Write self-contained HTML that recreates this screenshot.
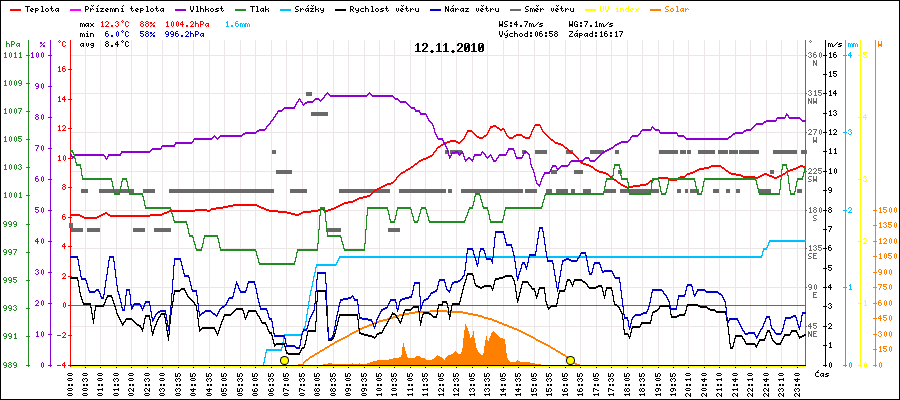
<!DOCTYPE html>
<html><head><meta charset="utf-8"><title>Meteo 12.11.2010</title>
<style>html,body{margin:0;padding:0;background:#fff;overflow:hidden}</style></head>
<body>
<svg width="900" height="400" viewBox="0 0 900 400" style="display:block">
<defs><path id="g25" d="M0 2h2v1h-2zM4 2h1v1h-1zM0 3h2v1h-2zM3 3h1v1h-1zM2 4h1v1h-1zM1 5h1v1h-1zM3 5h2v1h-2zM0 6h1v1h-1zM3 6h2v1h-2z"/><path id="g2d" d="M0 4h4v1h-4z"/><path id="g2e" d="M1 5h2v1h-2zM1 6h2v1h-2z"/><path id="g2f" d="M4 2h1v1h-1zM3 3h1v1h-1zM2 4h1v1h-1zM1 5h1v1h-1zM0 6h1v1h-1z"/><path id="g30" d="M2 1h1v1h-1zM1 2h1v1h-1zM3 2h1v1h-1zM1 3h1v1h-1zM3 3h1v1h-1zM1 4h1v1h-1zM3 4h1v1h-1zM1 5h1v1h-1zM3 5h1v1h-1zM2 6h1v1h-1z"/><path id="g31" d="M2 1h1v1h-1zM1 2h2v1h-2zM2 3h1v1h-1zM2 4h1v1h-1zM2 5h1v1h-1zM1 6h3v1h-3z"/><path id="g32" d="M1 1h2v1h-2zM0 2h1v1h-1zM3 2h1v1h-1zM3 3h1v1h-1zM2 4h1v1h-1zM1 5h1v1h-1zM0 6h4v1h-4z"/><path id="g33" d="M1 1h2v1h-2zM0 2h1v1h-1zM3 2h1v1h-1zM2 3h1v1h-1zM3 4h1v1h-1zM0 5h1v1h-1zM3 5h1v1h-1zM1 6h2v1h-2z"/><path id="g34" d="M2 1h1v1h-1zM1 2h2v1h-2zM0 3h1v1h-1zM2 3h1v1h-1zM0 4h4v1h-4zM2 5h1v1h-1zM2 6h1v1h-1z"/><path id="g35" d="M0 1h4v1h-4zM0 2h1v1h-1zM0 3h3v1h-3zM3 4h1v1h-1zM0 5h1v1h-1zM3 5h1v1h-1zM1 6h2v1h-2z"/><path id="g36" d="M1 1h2v1h-2zM0 2h1v1h-1zM0 3h3v1h-3zM0 4h1v1h-1zM3 4h1v1h-1zM0 5h1v1h-1zM3 5h1v1h-1zM1 6h2v1h-2z"/><path id="g37" d="M0 1h4v1h-4zM3 2h1v1h-1zM2 3h1v1h-1zM2 4h1v1h-1zM1 5h1v1h-1zM1 6h1v1h-1z"/><path id="g38" d="M1 1h2v1h-2zM0 2h1v1h-1zM3 2h1v1h-1zM1 3h2v1h-2zM0 4h1v1h-1zM3 4h1v1h-1zM0 5h1v1h-1zM3 5h1v1h-1zM1 6h2v1h-2z"/><path id="g39" d="M1 1h2v1h-2zM0 2h1v1h-1zM3 2h1v1h-1zM0 3h1v1h-1zM3 3h1v1h-1zM1 4h3v1h-3zM3 5h1v1h-1zM1 6h2v1h-2z"/><path id="g3a" d="M1 2h2v1h-2zM1 3h2v1h-2zM1 5h2v1h-2zM1 6h2v1h-2z"/><path id="g43" d="M1 1h2v1h-2zM0 2h1v1h-1zM3 2h1v1h-1zM0 3h1v1h-1zM0 4h1v1h-1zM0 5h1v1h-1zM3 5h1v1h-1zM1 6h2v1h-2z"/><path id="g45" d="M0 1h4v1h-4zM0 2h1v1h-1zM0 3h3v1h-3zM0 4h1v1h-1zM0 5h1v1h-1zM0 6h4v1h-4z"/><path id="g47" d="M1 1h2v1h-2zM0 2h1v1h-1zM3 2h1v1h-1zM0 3h1v1h-1zM0 4h1v1h-1zM2 4h2v1h-2zM0 5h1v1h-1zM3 5h1v1h-1zM1 6h3v1h-3z"/><path id="g4e" d="M0 1h1v1h-1zM3 1h1v1h-1zM0 2h2v1h-2zM3 2h1v1h-1zM0 3h2v1h-2zM3 3h1v1h-1zM0 4h1v1h-1zM2 4h2v1h-2zM0 5h1v1h-1zM2 5h2v1h-2zM0 6h1v1h-1zM3 6h1v1h-1z"/><path id="g50" d="M0 1h3v1h-3zM0 2h1v1h-1zM3 2h1v1h-1zM0 3h1v1h-1zM3 3h1v1h-1zM0 4h3v1h-3zM0 5h1v1h-1zM0 6h1v1h-1z"/><path id="g52" d="M0 1h3v1h-3zM0 2h1v1h-1zM3 2h1v1h-1zM0 3h1v1h-1zM3 3h1v1h-1zM0 4h3v1h-3zM0 5h1v1h-1zM2 5h1v1h-1zM0 6h1v1h-1zM3 6h1v1h-1z"/><path id="g53" d="M1 1h3v1h-3zM0 2h1v1h-1zM0 3h1v1h-1zM1 4h2v1h-2zM3 5h1v1h-1zM0 6h3v1h-3z"/><path id="g54" d="M0 1h5v1h-5zM2 2h1v1h-1zM2 3h1v1h-1zM2 4h1v1h-1zM2 5h1v1h-1zM2 6h1v1h-1z"/><path id="g55" d="M0 1h1v1h-1zM3 1h1v1h-1zM0 2h1v1h-1zM3 2h1v1h-1zM0 3h1v1h-1zM3 3h1v1h-1zM0 4h1v1h-1zM3 4h1v1h-1zM0 5h1v1h-1zM3 5h1v1h-1zM1 6h2v1h-2z"/><path id="g56" d="M0 1h1v1h-1zM3 1h1v1h-1zM0 2h1v1h-1zM3 2h1v1h-1zM0 3h1v1h-1zM3 3h1v1h-1zM0 4h1v1h-1zM3 4h1v1h-1zM1 5h2v1h-2zM1 6h2v1h-2z"/><path id="g57" d="M0 1h1v1h-1zM3 1h1v1h-1zM0 2h1v1h-1zM3 2h1v1h-1zM0 3h1v1h-1zM3 3h1v1h-1zM0 4h4v1h-4zM0 5h4v1h-4zM0 6h1v1h-1zM3 6h1v1h-1z"/><path id="g5a" d="M0 1h4v1h-4zM3 2h1v1h-1zM2 3h1v1h-1zM1 4h1v1h-1zM0 5h1v1h-1zM0 6h4v1h-4z"/><path id="g61" d="M1 3h3v1h-3zM0 4h1v1h-1zM3 4h1v1h-1zM0 5h1v1h-1zM2 5h2v1h-2zM1 6h1v1h-1zM3 6h1v1h-1z"/><path id="g63" d="M1 3h3v1h-3zM0 4h1v1h-1zM0 5h1v1h-1zM1 6h3v1h-3z"/><path id="g64" d="M3 1h1v1h-1zM3 2h1v1h-1zM1 3h3v1h-3zM0 4h1v1h-1zM3 4h1v1h-1zM0 5h1v1h-1zM3 5h1v1h-1zM1 6h3v1h-3z"/><path id="g65" d="M1 3h2v1h-2zM0 4h1v1h-1zM2 4h2v1h-2zM0 5h2v1h-2zM1 6h2v1h-2z"/><path id="g67" d="M1 3h3v1h-3zM0 4h1v1h-1zM3 4h1v1h-1zM1 5h3v1h-3zM3 6h1v1h-1zM1 7h2v1h-2z"/><path id="g68" d="M0 1h1v1h-1zM0 2h1v1h-1zM0 3h3v1h-3zM0 4h1v1h-1zM3 4h1v1h-1zM0 5h1v1h-1zM3 5h1v1h-1zM0 6h1v1h-1zM3 6h1v1h-1z"/><path id="g69" d="M2 1h1v1h-1zM1 3h2v1h-2zM2 4h1v1h-1zM2 5h1v1h-1zM1 6h3v1h-3z"/><path id="g6b" d="M0 1h1v1h-1zM0 2h1v1h-1zM0 3h1v1h-1zM3 3h1v1h-1zM0 4h3v1h-3zM0 5h1v1h-1zM3 5h1v1h-1zM0 6h1v1h-1zM3 6h1v1h-1z"/><path id="g6c" d="M1 1h2v1h-2zM2 2h1v1h-1zM2 3h1v1h-1zM2 4h1v1h-1zM2 5h1v1h-1zM1 6h3v1h-3z"/><path id="g6d" d="M0 3h2v1h-2zM3 3h1v1h-1zM0 4h1v1h-1zM2 4h1v1h-1zM4 4h1v1h-1zM0 5h1v1h-1zM2 5h1v1h-1zM4 5h1v1h-1zM0 6h1v1h-1zM2 6h1v1h-1zM4 6h1v1h-1z"/><path id="g6e" d="M0 3h3v1h-3zM0 4h1v1h-1zM3 4h1v1h-1zM0 5h1v1h-1zM3 5h1v1h-1zM0 6h1v1h-1zM3 6h1v1h-1z"/><path id="g6f" d="M1 3h2v1h-2zM0 4h1v1h-1zM3 4h1v1h-1zM0 5h1v1h-1zM3 5h1v1h-1zM1 6h2v1h-2z"/><path id="g70" d="M0 3h3v1h-3zM0 4h1v1h-1zM3 4h1v1h-1zM0 5h3v1h-3zM0 6h1v1h-1zM0 7h1v1h-1z"/><path id="g72" d="M0 3h1v1h-1zM2 3h1v1h-1zM0 4h2v1h-2zM3 4h1v1h-1zM0 5h1v1h-1zM0 6h1v1h-1z"/><path id="g73" d="M1 3h3v1h-3zM0 4h2v1h-2zM2 5h2v1h-2zM0 6h3v1h-3z"/><path id="g74" d="M1 1h1v1h-1zM1 2h1v1h-1zM0 3h3v1h-3zM1 4h1v1h-1zM1 5h1v1h-1zM3 5h1v1h-1zM2 6h1v1h-1z"/><path id="g75" d="M0 3h1v1h-1zM3 3h1v1h-1zM0 4h1v1h-1zM3 4h1v1h-1zM0 5h1v1h-1zM3 5h1v1h-1zM1 6h3v1h-3z"/><path id="g76" d="M1 3h1v1h-1zM3 3h1v1h-1zM1 4h1v1h-1zM3 4h1v1h-1zM1 5h1v1h-1zM3 5h1v1h-1zM2 6h1v1h-1z"/><path id="g78" d="M0 3h1v1h-1zM3 3h1v1h-1zM1 4h2v1h-2zM1 5h2v1h-2zM0 6h1v1h-1zM3 6h1v1h-1z"/><path id="g79" d="M0 3h1v1h-1zM3 3h1v1h-1zM0 4h1v1h-1zM3 4h1v1h-1zM1 5h3v1h-3zM3 6h1v1h-1zM1 7h2v1h-2z"/><path id="g7a" d="M0 3h4v1h-4zM2 4h1v1h-1zM1 5h1v1h-1zM0 6h4v1h-4z"/><path id="gb0" d="M2 0h1v1h-1zM1 1h1v1h-1zM3 1h1v1h-1zM2 2h1v1h-1z"/><path id="ge1" d="M3 0h1v1h-1zM2 1h1v1h-1zM1 3h3v1h-3zM0 4h1v1h-1zM3 4h1v1h-1zM0 5h1v1h-1zM2 5h2v1h-2zM1 6h1v1h-1zM3 6h1v1h-1z"/><path id="ged" d="M3 0h1v1h-1zM2 1h1v1h-1zM1 3h2v1h-2zM2 4h1v1h-1zM2 5h1v1h-1zM1 6h3v1h-3z"/><path id="gfd" d="M3 0h1v1h-1zM2 1h1v1h-1zM0 3h1v1h-1zM3 3h1v1h-1zM0 4h1v1h-1zM3 4h1v1h-1zM1 5h3v1h-3zM3 6h1v1h-1zM1 7h2v1h-2z"/><path id="g10c" d="M3 0h1v1h-1zM2 1h1v1h-1zM1 2h3v1h-3zM0 3h1v1h-1zM0 4h1v1h-1zM0 5h1v1h-1zM1 6h3v1h-3z"/><path id="g11b" d="M1 0h1v1h-1zM3 0h1v1h-1zM2 1h1v1h-1zM1 3h2v1h-2zM0 4h1v1h-1zM2 4h2v1h-2zM0 5h2v1h-2zM1 6h2v1h-2z"/><path id="g159" d="M1 0h1v1h-1zM3 0h1v1h-1zM2 1h1v1h-1zM0 3h1v1h-1zM2 3h1v1h-1zM0 4h2v1h-2zM3 4h1v1h-1zM0 5h1v1h-1zM0 6h1v1h-1z"/><path id="g17e" d="M1 0h1v1h-1zM3 0h1v1h-1zM2 1h1v1h-1zM0 3h4v1h-4zM2 4h1v1h-1zM1 5h1v1h-1zM0 6h4v1h-4z"/><path id="b2e" d="M3 9h2v1h-2zM2 10h4v1h-4zM3 11h2v1h-2z"/><path id="b30" d="M2 2h4v1h-4zM1 3h2v1h-2zM5 3h2v1h-2zM1 4h2v1h-2zM4 4h3v1h-3zM1 5h2v1h-2zM4 5h3v1h-3zM1 6h6v1h-6zM1 7h3v1h-3zM5 7h2v1h-2zM1 8h3v1h-3zM5 8h2v1h-2zM1 9h2v1h-2zM5 9h2v1h-2zM2 10h4v1h-4z"/><path id="b31" d="M3 2h2v1h-2zM2 3h3v1h-3zM1 4h1v1h-1zM3 4h2v1h-2zM3 5h2v1h-2zM3 6h2v1h-2zM3 7h2v1h-2zM3 8h2v1h-2zM3 9h2v1h-2zM1 10h6v1h-6z"/><path id="b32" d="M2 2h4v1h-4zM1 3h2v1h-2zM5 3h2v1h-2zM1 4h2v1h-2zM5 4h2v1h-2zM5 5h2v1h-2zM4 6h2v1h-2zM3 7h2v1h-2zM2 8h2v1h-2zM1 9h2v1h-2zM1 10h6v1h-6z"/></defs>
<rect x="0" y="0" width="900" height="400" fill="#fff"/>
<g shape-rendering="crispEdges">
<rect x="85" y="40" width="1" height="324" fill="#ece6e6"/>
<rect x="100" y="40" width="1" height="324" fill="#ece6e6"/>
<rect x="116" y="40" width="1" height="324" fill="#ece6e6"/>
<rect x="131" y="40" width="1" height="324" fill="#ece6e6"/>
<rect x="147" y="40" width="1" height="324" fill="#ece6e6"/>
<rect x="162" y="40" width="1" height="324" fill="#ece6e6"/>
<rect x="178" y="40" width="1" height="324" fill="#ece6e6"/>
<rect x="193" y="40" width="1" height="324" fill="#ece6e6"/>
<rect x="209" y="40" width="1" height="324" fill="#ece6e6"/>
<rect x="224" y="40" width="1" height="324" fill="#ece6e6"/>
<rect x="240" y="40" width="1" height="324" fill="#ece6e6"/>
<rect x="255" y="40" width="1" height="324" fill="#ece6e6"/>
<rect x="271" y="40" width="1" height="324" fill="#ece6e6"/>
<rect x="286" y="40" width="1" height="324" fill="#ece6e6"/>
<rect x="302" y="40" width="1" height="324" fill="#ece6e6"/>
<rect x="317" y="40" width="1" height="324" fill="#ece6e6"/>
<rect x="333" y="40" width="1" height="324" fill="#ece6e6"/>
<rect x="348" y="40" width="1" height="324" fill="#ece6e6"/>
<rect x="364" y="40" width="1" height="324" fill="#ece6e6"/>
<rect x="379" y="40" width="1" height="324" fill="#ece6e6"/>
<rect x="394" y="40" width="1" height="324" fill="#ece6e6"/>
<rect x="410" y="40" width="1" height="324" fill="#ece6e6"/>
<rect x="425" y="40" width="1" height="324" fill="#ece6e6"/>
<rect x="441" y="40" width="1" height="324" fill="#ece6e6"/>
<rect x="456" y="40" width="1" height="324" fill="#ece6e6"/>
<rect x="472" y="40" width="1" height="324" fill="#ece6e6"/>
<rect x="487" y="40" width="1" height="324" fill="#ece6e6"/>
<rect x="503" y="40" width="1" height="324" fill="#ece6e6"/>
<rect x="518" y="40" width="1" height="324" fill="#ece6e6"/>
<rect x="534" y="40" width="1" height="324" fill="#ece6e6"/>
<rect x="549" y="40" width="1" height="324" fill="#ece6e6"/>
<rect x="565" y="40" width="1" height="324" fill="#ece6e6"/>
<rect x="580" y="40" width="1" height="324" fill="#ece6e6"/>
<rect x="596" y="40" width="1" height="324" fill="#ece6e6"/>
<rect x="611" y="40" width="1" height="324" fill="#ece6e6"/>
<rect x="627" y="40" width="1" height="324" fill="#ece6e6"/>
<rect x="642" y="40" width="1" height="324" fill="#ece6e6"/>
<rect x="658" y="40" width="1" height="324" fill="#ece6e6"/>
<rect x="673" y="40" width="1" height="324" fill="#ece6e6"/>
<rect x="688" y="40" width="1" height="324" fill="#ece6e6"/>
<rect x="704" y="40" width="1" height="324" fill="#ece6e6"/>
<rect x="719" y="40" width="1" height="324" fill="#ece6e6"/>
<rect x="735" y="40" width="1" height="324" fill="#ece6e6"/>
<rect x="750" y="40" width="1" height="324" fill="#ece6e6"/>
<rect x="766" y="40" width="1" height="324" fill="#ece6e6"/>
<rect x="781" y="40" width="1" height="324" fill="#ece6e6"/>
<rect x="797" y="40" width="1" height="324" fill="#ece6e6"/>
<rect x="71" y="326" width="734" height="1" fill="#ece6e6"/>
<rect x="71" y="287" width="734" height="1" fill="#ece6e6"/>
<rect x="71" y="248" width="734" height="1" fill="#ece6e6"/>
<rect x="71" y="210" width="734" height="1" fill="#ece6e6"/>
<rect x="71" y="171" width="734" height="1" fill="#ece6e6"/>
<rect x="71" y="132" width="734" height="1" fill="#ece6e6"/>
<rect x="71" y="93" width="734" height="1" fill="#ece6e6"/>
<rect x="71" y="55" width="734" height="1" fill="#ece6e6"/>
</g>
<g shape-rendering="crispEdges">
<rect x="28" y="40" width="1" height="327" fill="#228b22"/>
<rect x="26" y="365" width="4" height="1" fill="#228b22"/>
<rect x="26" y="336" width="4" height="1" fill="#228b22"/>
<rect x="26" y="308" width="4" height="1" fill="#228b22"/>
<rect x="26" y="280" width="4" height="1" fill="#228b22"/>
<rect x="26" y="252" width="4" height="1" fill="#228b22"/>
<rect x="26" y="224" width="4" height="1" fill="#228b22"/>
<rect x="26" y="195" width="4" height="1" fill="#228b22"/>
<rect x="26" y="167" width="4" height="1" fill="#228b22"/>
<rect x="26" y="139" width="4" height="1" fill="#228b22"/>
<rect x="26" y="111" width="4" height="1" fill="#228b22"/>
<rect x="26" y="83" width="4" height="1" fill="#228b22"/>
<rect x="26" y="55" width="4" height="1" fill="#228b22"/>
<rect x="50" y="40" width="1" height="327" fill="#8c00d0"/>
<rect x="48" y="365" width="4" height="1" fill="#8c00d0"/>
<rect x="48" y="334" width="4" height="1" fill="#8c00d0"/>
<rect x="48" y="303" width="4" height="1" fill="#8c00d0"/>
<rect x="48" y="272" width="4" height="1" fill="#8c00d0"/>
<rect x="48" y="241" width="4" height="1" fill="#8c00d0"/>
<rect x="48" y="210" width="4" height="1" fill="#8c00d0"/>
<rect x="48" y="179" width="4" height="1" fill="#8c00d0"/>
<rect x="48" y="148" width="4" height="1" fill="#8c00d0"/>
<rect x="48" y="117" width="4" height="1" fill="#8c00d0"/>
<rect x="48" y="86" width="4" height="1" fill="#8c00d0"/>
<rect x="48" y="55" width="4" height="1" fill="#8c00d0"/>
<rect x="70" y="40" width="1" height="327" fill="#ff0000"/>
<rect x="68" y="365" width="4" height="1" fill="#ff0000"/>
<rect x="68" y="335" width="4" height="1" fill="#ff0000"/>
<rect x="68" y="305" width="4" height="1" fill="#ff0000"/>
<rect x="68" y="276" width="4" height="1" fill="#ff0000"/>
<rect x="68" y="246" width="4" height="1" fill="#ff0000"/>
<rect x="68" y="217" width="4" height="1" fill="#ff0000"/>
<rect x="68" y="187" width="4" height="1" fill="#ff0000"/>
<rect x="68" y="158" width="4" height="1" fill="#ff0000"/>
<rect x="68" y="128" width="4" height="1" fill="#ff0000"/>
<rect x="68" y="99" width="4" height="1" fill="#ff0000"/>
<rect x="68" y="69" width="4" height="1" fill="#ff0000"/>
<rect x="805" y="40" width="1" height="326" fill="#696969"/>
<rect x="805" y="326" width="2" height="1" fill="#696969"/>
<rect x="805" y="287" width="2" height="1" fill="#696969"/>
<rect x="805" y="248" width="2" height="1" fill="#696969"/>
<rect x="805" y="210" width="2" height="1" fill="#696969"/>
<rect x="805" y="171" width="2" height="1" fill="#696969"/>
<rect x="805" y="132" width="2" height="1" fill="#696969"/>
<rect x="805" y="93" width="2" height="1" fill="#696969"/>
<rect x="805" y="55" width="2" height="1" fill="#696969"/>
<rect x="825" y="40" width="1" height="327" fill="#000000"/>
<rect x="823" y="365" width="4" height="1" fill="#000000"/>
<rect x="823" y="345" width="4" height="1" fill="#000000"/>
<rect x="823" y="326" width="4" height="1" fill="#000000"/>
<rect x="823" y="306" width="4" height="1" fill="#000000"/>
<rect x="823" y="287" width="4" height="1" fill="#000000"/>
<rect x="823" y="268" width="4" height="1" fill="#000000"/>
<rect x="823" y="248" width="4" height="1" fill="#000000"/>
<rect x="823" y="229" width="4" height="1" fill="#000000"/>
<rect x="823" y="210" width="4" height="1" fill="#000000"/>
<rect x="823" y="190" width="4" height="1" fill="#000000"/>
<rect x="823" y="171" width="4" height="1" fill="#000000"/>
<rect x="823" y="151" width="4" height="1" fill="#000000"/>
<rect x="823" y="132" width="4" height="1" fill="#000000"/>
<rect x="823" y="113" width="4" height="1" fill="#000000"/>
<rect x="823" y="93" width="4" height="1" fill="#000000"/>
<rect x="823" y="74" width="4" height="1" fill="#000000"/>
<rect x="823" y="55" width="4" height="1" fill="#000000"/>
<rect x="845" y="40" width="1" height="327" fill="#00bfff"/>
<rect x="843" y="365" width="4" height="1" fill="#00bfff"/>
<rect x="843" y="287" width="4" height="1" fill="#00bfff"/>
<rect x="843" y="210" width="4" height="1" fill="#00bfff"/>
<rect x="843" y="132" width="4" height="1" fill="#00bfff"/>
<rect x="843" y="55" width="4" height="1" fill="#00bfff"/>
<rect x="860" y="40" width="1" height="327" fill="#ffff00"/>
<rect x="858" y="365" width="4" height="1" fill="#ffff00"/>
<rect x="858" y="303" width="4" height="1" fill="#ffff00"/>
<rect x="858" y="241" width="4" height="1" fill="#ffff00"/>
<rect x="858" y="179" width="4" height="1" fill="#ffff00"/>
<rect x="858" y="117" width="4" height="1" fill="#ffff00"/>
<rect x="858" y="55" width="4" height="1" fill="#ffff00"/>
<rect x="875" y="40" width="1" height="327" fill="#ff8000"/>
<rect x="873" y="365" width="4" height="1" fill="#ff8000"/>
<rect x="873" y="349" width="4" height="1" fill="#ff8000"/>
<rect x="873" y="334" width="4" height="1" fill="#ff8000"/>
<rect x="873" y="318" width="4" height="1" fill="#ff8000"/>
<rect x="873" y="303" width="4" height="1" fill="#ff8000"/>
<rect x="873" y="287" width="4" height="1" fill="#ff8000"/>
<rect x="873" y="272" width="4" height="1" fill="#ff8000"/>
<rect x="873" y="256" width="4" height="1" fill="#ff8000"/>
<rect x="873" y="241" width="4" height="1" fill="#ff8000"/>
<rect x="873" y="225" width="4" height="1" fill="#ff8000"/>
<rect x="873" y="210" width="4" height="1" fill="#ff8000"/>
</g>
<g shape-rendering="crispEdges">
<rect x="71" y="228" width="12" height="4" fill="#696969"/>
<rect x="87" y="228" width="13" height="4" fill="#696969"/>
<rect x="133" y="228" width="12" height="4" fill="#696969"/>
<rect x="154" y="228" width="17" height="4" fill="#696969"/>
<rect x="326" y="228" width="15" height="4" fill="#696969"/>
<rect x="388" y="228" width="12" height="4" fill="#696969"/>
<rect x="81" y="189" width="7" height="4" fill="#696969"/>
<rect x="99" y="189" width="35" height="4" fill="#696969"/>
<rect x="143" y="189" width="12" height="4" fill="#696969"/>
<rect x="169" y="189" width="105" height="4" fill="#696969"/>
<rect x="290" y="189" width="17" height="4" fill="#696969"/>
<rect x="339" y="189" width="51" height="4" fill="#696969"/>
<rect x="399" y="189" width="47" height="4" fill="#696969"/>
<rect x="448" y="189" width="4" height="4" fill="#696969"/>
<rect x="461" y="189" width="61.5" height="4" fill="#696969"/>
<rect x="525" y="189" width="12" height="4" fill="#696969"/>
<rect x="546" y="189" width="6" height="4" fill="#696969"/>
<rect x="556" y="189" width="12" height="4" fill="#696969"/>
<rect x="571" y="189" width="3.5" height="4" fill="#696969"/>
<rect x="582.5" y="189" width="8.5" height="4" fill="#696969"/>
<rect x="604" y="189" width="12" height="4" fill="#696969"/>
<rect x="620" y="189" width="39" height="4" fill="#696969"/>
<rect x="677" y="189" width="4" height="4" fill="#696969"/>
<rect x="684.5" y="189" width="3.5" height="4" fill="#696969"/>
<rect x="690" y="189" width="9" height="4" fill="#696969"/>
<rect x="713" y="189" width="6" height="4" fill="#696969"/>
<rect x="726" y="189" width="4" height="4" fill="#696969"/>
<rect x="736" y="189" width="3.5" height="4" fill="#696969"/>
<rect x="757.5" y="189" width="13.0" height="4" fill="#696969"/>
<rect x="797" y="189" width="5" height="4" fill="#696969"/>
<rect x="275.5" y="170" width="16.5" height="4" fill="#696969"/>
<rect x="551" y="170" width="6" height="4" fill="#696969"/>
<rect x="574" y="170" width="9" height="4" fill="#696969"/>
<rect x="618" y="170" width="4" height="4" fill="#696969"/>
<rect x="770" y="170" width="4" height="4" fill="#696969"/>
<rect x="272" y="150" width="4" height="4" fill="#696969"/>
<rect x="445" y="150" width="3.5" height="4" fill="#696969"/>
<rect x="450" y="150" width="12" height="4" fill="#696969"/>
<rect x="522" y="150" width="4" height="4" fill="#696969"/>
<rect x="535" y="150" width="12" height="4" fill="#696969"/>
<rect x="566" y="150" width="6.5" height="4" fill="#696969"/>
<rect x="589.5" y="150" width="14.5" height="4" fill="#696969"/>
<rect x="615" y="150" width="4" height="4" fill="#696969"/>
<rect x="659" y="150" width="19" height="4" fill="#696969"/>
<rect x="680" y="150" width="6" height="4" fill="#696969"/>
<rect x="687" y="150" width="4" height="4" fill="#696969"/>
<rect x="698" y="150" width="16.5" height="4" fill="#696969"/>
<rect x="718" y="150" width="9.5" height="4" fill="#696969"/>
<rect x="729" y="150" width="8.5" height="4" fill="#696969"/>
<rect x="739" y="150" width="20" height="4" fill="#696969"/>
<rect x="773" y="150" width="24" height="4" fill="#696969"/>
<rect x="801" y="150" width="6" height="4" fill="#696969"/>
<rect x="311" y="112" width="17" height="4" fill="#696969"/>
<rect x="306" y="92" width="6" height="4" fill="#696969"/>
<rect x="69" y="223" width="3.5" height="5" fill="#696969"/>
</g>
<polygon points="323.0,365.0 323.0,364.0 328.0,364.0 328.0,363.0 332.0,363.0 332.0,364.0 352.0,364.0 352.5,363.0 353.0,364.0 359.0,364.0 359.5,363.0 360.0,364.0 366.0,364.0 370.0,362.5 375.0,361.0 378.0,360.0 387.0,360.0 390.0,359.0 395.0,358.2 398.0,358.2 399.0,357.0 401.0,357.0 402.0,353.0 402.5,347.0 403.5,343.0 404.5,347.0 405.5,351.0 407.0,356.0 408.5,358.0 415.0,358.0 416.0,355.5 419.5,355.5 421.0,358.0 424.5,358.5 427.0,360.0 431.5,360.0 433.0,359.0 435.0,357.5 437.5,355.0 439.0,356.0 441.0,357.0 444.5,360.0 446.0,357.0 447.5,355.5 450.0,355.0 452.5,354.0 455.5,351.0 458.0,354.0 461.0,354.0 462.5,348.0 463.5,338.0 465.3,324.1 467.0,326.5 468.8,331.7 470.6,338.8 472.3,335.3 473.5,331.2 474.7,338.8 476.5,348.2 478.8,352.9 482.3,355.8 483.5,352.9 484.7,344.7 486.4,335.3 488.0,341.7 489.4,338.8 491.7,332.9 493.5,331.2 497.0,334.7 500.0,337.6 503.5,338.8 504.6,338.8 505.8,345.9 507.0,357.6 509.3,361.1 510.5,362.0 515.2,362.0 517.4,360.0 519.5,361.4 520.0,362.0 530.0,362.0 530.0,363.0 535.0,363.0 535.0,364.0 541.0,364.0 541.0,365.0" fill="#ff8000" shape-rendering="crispEdges"/>
<path fill="#ff8000" shape-rendering="crispEdges" d="M298 364h6v1h-6zM298 365h5v1h-5zM303 362h2v1h-2zM303 363h1v1h-1zM304 361h2v1h-2zM305 360h3v1h-3zM306 359h3v1h-3zM308 358h2v1h-2zM309 357h3v1h-3zM310 356h4v1h-4zM312 355h3v1h-3zM314 354h3v1h-3zM315 353h4v1h-4zM317 352h3v1h-3zM319 351h3v1h-3zM320 350h4v1h-4zM322 349h3v1h-3zM324 348h3v1h-3zM325 347h4v1h-4zM327 346h3v1h-3zM329 345h3v1h-3zM330 344h4v1h-4zM332 343h3v1h-3zM334 342h3v1h-3zM335 341h4v1h-4zM337 340h4v1h-4zM339 339h4v1h-4zM341 338h4v1h-4zM343 337h4v1h-4zM345 336h4v1h-4zM347 335h3v1h-3zM349 334h3v1h-3zM350 333h4v1h-4zM352 332h4v1h-4zM354 331h4v1h-4zM356 330h4v1h-4zM358 329h4v1h-4zM360 328h4v1h-4zM362 327h5v1h-5zM364 326h5v1h-5zM367 325h5v1h-5zM369 324h5v1h-5zM372 323h5v1h-5zM374 322h5v1h-5zM377 321h6v1h-6zM379 320h8v1h-8zM383 319h6v1h-6zM387 318h6v1h-6zM389 317h8v1h-8zM393 316h6v1h-6zM397 315h6v1h-6zM399 314h10v1h-10zM403 313h12v1h-12zM409 312h21v1h-21zM415 311h48v1h-48zM430 310h17v1h-17zM447 312h21v1h-21zM463 313h10v1h-10zM468 314h10v1h-10zM473 315h9v1h-9zM478 316h6v1h-6zM482 317h6v1h-6zM484 318h8v1h-8zM488 319h6v1h-6zM492 320h5v1h-5zM494 321h5v1h-5zM497 322h5v1h-5zM499 323h5v1h-5zM502 324h5v1h-5zM504 325h5v1h-5zM507 326h5v1h-5zM509 327h5v1h-5zM512 328h5v1h-5zM514 329h5v1h-5zM517 330h4v1h-4zM519 331h4v1h-4zM521 332h4v1h-4zM523 333h4v1h-4zM525 334h4v1h-4zM527 335h4v1h-4zM529 336h4v1h-4zM531 337h4v1h-4zM533 338h3v1h-3zM535 339h3v1h-3zM536 340h4v1h-4zM538 341h4v1h-4zM540 342h4v1h-4zM542 343h4v1h-4zM544 344h4v1h-4zM546 345h4v1h-4zM548 346h3v1h-3zM550 347h3v1h-3zM551 348h4v1h-4zM553 349h3v1h-3zM555 350h3v1h-3zM556 351h4v1h-4zM558 352h3v1h-3zM560 353h3v1h-3zM561 354h4v1h-4zM563 355h3v1h-3zM565 356h3v1h-3zM566 357h3v1h-3zM568 358h2v1h-2zM569 359h2v1h-2zM570 360h3v1h-3zM571 361h3v1h-3zM573 362h2v1h-2zM574 363h3v1h-3zM575 364h5v1h-5zM577 365h3v1h-3z"/>
<path fill="#ff0000" shape-rendering="crispEdges" d="M70 214h10v1h-10zM70 215h12v1h-12zM80 216h4v1h-4zM82 217h17v1h-17zM84 218h13v1h-13zM97 216h4v1h-4zM99 215h4v1h-4zM101 214h4v1h-4zM103 213h5v1h-5zM105 212h2v1h-2zM107 214h3v1h-3zM108 215h54v1h-54zM110 216h40v1h-40zM150 214h14v1h-14zM162 213h5v1h-5zM164 212h5v1h-5zM167 211h28v1h-28zM169 210h42v1h-42zM195 209h12v1h-12zM207 211h3v1h-3zM210 209h6v1h-6zM211 208h12v1h-12zM216 207h12v1h-12zM223 206h10v1h-10zM228 205h31v1h-31zM233 204h24v1h-24zM257 206h4v1h-4zM259 207h5v1h-5zM261 208h5v1h-5zM264 209h5v1h-5zM266 210h12v1h-12zM269 211h18v1h-18zM278 212h13v1h-13zM287 213h8v1h-8zM291 214h10v1h-10zM295 215h4v1h-4zM299 213h4v1h-4zM301 212h10v1h-10zM303 211h15v1h-15zM311 210h9v1h-9zM318 209h7v1h-7zM320 208h3v1h-3zM323 210h8v1h-8zM325 211h3v1h-3zM328 209h6v1h-6zM331 208h5v1h-5zM334 207h4v1h-4zM336 206h4v1h-4zM338 205h4v1h-4zM340 204h4v1h-4zM342 203h6v1h-6zM344 202h9v1h-9zM348 201h7v1h-7zM353 200h4v1h-4zM355 199h4v1h-4zM357 198h6v1h-6zM359 197h8v1h-8zM363 196h7v1h-7zM367 195h4v1h-4zM370 194h2v1h-2zM371 193h2v1h-2zM372 192h2v1h-2zM373 191h2v1h-2zM374 190h3v1h-3zM375 189h4v1h-4zM377 188h4v1h-4zM379 187h4v1h-4zM381 186h4v1h-4zM383 185h4v1h-4zM385 184h6v1h-6zM387 183h6v1h-6zM391 182h3v1h-3zM393 181h2v1h-2zM394 180h2v1h-2zM395 179h2v1h-2zM396 177h2v1h-2zM396 178h1v1h-1zM397 176h2v1h-2zM398 175h2v1h-2zM399 174h2v1h-2zM400 173h3v1h-3zM401 172h4v1h-4zM403 171h3v1h-3zM405 170h3v1h-3zM406 169h4v1h-4zM408 168h3v1h-3zM410 167h3v1h-3zM411 166h3v1h-3zM413 165h2v1h-2zM414 164h3v1h-3zM415 163h3v1h-3zM417 162h2v1h-2zM418 161h3v1h-3zM419 160h4v1h-4zM421 159h5v1h-5zM423 158h5v1h-5zM426 157h4v1h-4zM428 156h4v1h-4zM430 155h3v1h-3zM432 154h2v1h-2zM433 152h2v1h-2zM433 153h1v1h-1zM434 151h2v1h-2zM435 150h2v1h-2zM436 148h2v1h-2zM436 149h1v1h-1zM437 147h3v1h-3zM438 146h3v1h-3zM440 145h3v1h-3zM441 144h4v1h-4zM443 143h4v1h-4zM445 142h5v1h-5zM447 141h11v1h-11zM450 140h6v1h-6zM456 142h5v1h-5zM458 143h2v1h-2zM460 141h2v1h-2zM461 140h2v1h-2zM462 139h2v1h-2zM463 138h2v1h-2zM464 136h2v1h-2zM464 137h1v1h-1zM465 134h2v1h-2zM465 135h1v1h-1zM466 132h2v1h-2zM466 133h1v1h-1zM467 130h5v1h-5zM467 131h6v1h-6zM472 132h2v1h-2zM473 133h2v1h-2zM474 134h2v1h-2zM475 135h2v1h-2zM476 136h3v1h-3zM477 137h7v1h-7zM479 138h4v1h-4zM483 136h3v1h-3zM484 135h3v1h-3zM486 134h2v1h-2zM487 132h2v1h-2zM487 133h1v1h-1zM488 130h2v1h-2zM488 131h1v1h-1zM489 128h2v1h-2zM489 129h1v1h-1zM490 126h7v1h-7zM490 127h3v1h-3zM493 125h3v1h-3zM496 127h3v1h-3zM497 128h3v1h-3zM499 129h6v1h-6zM500 130h2v1h-2zM502 128h2v1h-2zM504 130h1v1h-1zM504 131h2v1h-2zM505 132h1v1h-1zM505 133h2v1h-2zM506 134h1v1h-1zM506 135h2v1h-2zM507 136h2v1h-2zM508 137h6v1h-6zM509 138h4v1h-4zM513 136h3v1h-3zM514 135h9v1h-9zM516 134h6v1h-6zM522 136h3v1h-3zM523 137h7v1h-7zM525 138h5v1h-5zM529 136h2v1h-2zM530 134h2v1h-2zM530 135h1v1h-1zM531 131h2v1h-2zM531 132h1v2h-1zM532 129h2v1h-2zM532 130h1v1h-1zM533 127h2v1h-2zM533 128h1v1h-1zM534 125h7v1h-7zM534 126h1v1h-1zM535 124h5v1h-5zM540 126h1v1h-1zM540 127h2v1h-2zM541 128h1v1h-1zM541 129h2v1h-2zM542 130h1v1h-1zM542 131h2v1h-2zM543 132h2v1h-2zM544 133h2v1h-2zM545 134h2v1h-2zM546 135h2v1h-2zM547 136h2v1h-2zM548 137h2v1h-2zM549 138h2v1h-2zM550 139h3v1h-3zM551 140h3v1h-3zM553 141h2v1h-2zM554 142h4v1h-4zM555 143h6v1h-6zM558 144h5v1h-5zM561 145h3v1h-3zM563 146h2v1h-2zM564 147h3v1h-3zM565 148h3v1h-3zM567 149h2v1h-2zM568 150h2v1h-2zM569 151h2v1h-2zM570 152h3v1h-3zM571 153h3v1h-3zM573 154h2v1h-2zM574 155h2v1h-2zM575 156h2v1h-2zM576 157h2v1h-2zM577 158h2v1h-2zM578 159h1v1h-1zM578 160h2v1h-2zM579 161h2v1h-2zM580 162h3v1h-3zM581 163h5v1h-5zM583 164h6v1h-6zM586 165h5v1h-5zM589 166h4v1h-4zM591 167h3v1h-3zM593 168h2v1h-2zM594 169h3v1h-3zM595 170h4v1h-4zM597 171h6v1h-6zM599 172h7v1h-7zM603 173h5v1h-5zM606 174h3v1h-3zM608 175h2v1h-2zM609 176h3v1h-3zM610 177h3v1h-3zM612 178h2v1h-2zM613 179h3v1h-3zM614 180h3v1h-3zM616 181h2v1h-2zM617 182h3v1h-3zM618 183h3v1h-3zM620 184h3v1h-3zM621 185h4v1h-4zM623 186h4v1h-4zM625 187h8v1h-8zM627 188h2v1h-2zM629 186h11v1h-11zM633 185h13v1h-13zM640 184h8v1h-8zM646 183h3v1h-3zM648 182h2v1h-2zM649 181h3v1h-3zM650 180h4v1h-4zM652 179h6v1h-6zM654 178h16v1h-16zM658 177h10v1h-10zM668 179h10v1h-10zM670 180h7v1h-7zM677 178h3v1h-3zM678 177h7v1h-7zM680 176h6v1h-6zM685 175h2v1h-2zM686 174h4v1h-4zM687 173h6v1h-6zM690 172h5v1h-5zM693 171h4v1h-4zM695 170h4v1h-4zM697 169h7v1h-7zM699 168h10v1h-10zM704 167h7v1h-7zM709 166h13v1h-13zM711 165h10v1h-10zM721 167h3v1h-3zM722 168h3v1h-3zM724 169h2v1h-2zM725 170h3v1h-3zM726 171h3v1h-3zM728 172h3v1h-3zM729 173h7v1h-7zM731 174h10v1h-10zM736 175h7v1h-7zM741 176h14v1h-14zM743 177h17v1h-17zM755 178h3v1h-3zM758 176h4v1h-4zM760 175h4v1h-4zM762 174h7v1h-7zM764 173h3v1h-3zM767 175h5v1h-5zM769 176h5v1h-5zM772 177h7v1h-7zM774 178h3v1h-3zM777 176h4v1h-4zM779 175h4v1h-4zM781 174h4v1h-4zM783 173h3v1h-3zM785 172h3v1h-3zM786 171h4v1h-4zM788 170h5v1h-5zM790 169h6v1h-6zM793 168h5v1h-5zM796 167h4v1h-4zM798 166h7v1h-7zM800 165h3v1h-3zM803 167h3v1h-3zM805 168h1v1h-1z"/>
<rect x="71" y="305" width="734" height="1" fill="#ff00ff"/>
<path fill="#8c00d0" shape-rendering="crispEdges" d="M70 153h1v1h-1zM70 154h2v1h-2zM71 155h1v1h-1zM71 156h4v1h-4zM72 157h2v1h-2zM72 158h1v1h-1zM74 155h31v1h-31zM75 154h29v1h-29zM104 156h2v1h-2zM105 157h1v1h-1zM105 158h3v1h-3zM106 159h1v1h-1zM107 156h2v1h-2zM107 157h1v1h-1zM108 154h13v2h-13zM120 153h2v1h-2zM121 151h30v1h-30zM121 152h29v1h-29zM150 150h2v1h-2zM151 149h10v1h-10zM152 148h10v1h-10zM161 146h14v1h-14zM161 147h1v1h-1zM162 145h13v1h-13zM174 144h2v1h-2zM175 142h18v1h-18zM175 143h17v1h-17zM192 141h2v1h-2zM193 139h19v1h-19zM193 140h1v1h-1zM194 138h19v1h-19zM212 137h2v1h-2zM213 136h3v1h-3zM214 135h1v1h-1zM215 137h2v1h-2zM216 138h3v1h-3zM217 139h1v1h-1zM218 137h2v1h-2zM219 136h23v1h-23zM220 135h23v1h-23zM242 134h3v1h-3zM243 133h13v1h-13zM245 132h12v1h-12zM256 131h3v1h-3zM257 130h8v1h-8zM259 129h7v1h-7zM265 128h2v1h-2zM266 126h2v1h-2zM266 127h1v1h-1zM267 125h2v1h-2zM268 124h2v1h-2zM269 123h2v1h-2zM270 121h2v1h-2zM270 122h1v1h-1zM271 120h2v1h-2zM272 119h2v1h-2zM273 117h2v1h-2zM273 118h1v1h-1zM274 116h2v1h-2zM275 114h2v1h-2zM275 115h1v1h-1zM276 113h2v1h-2zM277 111h5v1h-5zM277 112h1v1h-1zM278 110h5v1h-5zM282 109h2v1h-2zM283 108h12v1h-12zM284 107h11v1h-11zM294 106h2v1h-2zM295 104h2v1h-2zM295 105h1v1h-1zM296 102h2v1h-2zM296 103h1v1h-1zM297 101h2v1h-2zM298 99h3v1h-3zM298 100h1v1h-1zM299 98h1v1h-1zM300 100h1v1h-1zM300 101h2v1h-2zM301 102h2v1h-2zM302 103h1v1h-1zM302 104h3v1h-3zM303 105h1v1h-1zM304 103h3v1h-3zM305 102h8v1h-8zM307 101h7v1h-7zM313 100h2v1h-2zM314 99h6v1h-6zM315 98h4v1h-4zM319 100h3v1h-3zM320 101h1v1h-1zM321 99h2v1h-2zM322 98h2v1h-2zM323 97h2v1h-2zM324 95h2v1h-2zM324 96h1v1h-1zM325 94h2v1h-2zM326 93h3v1h-3zM327 92h1v1h-1zM328 94h2v1h-2zM329 95h39v1h-39zM330 96h37v1h-37zM367 94h2v1h-2zM368 93h3v1h-3zM369 92h1v1h-1zM370 94h2v1h-2zM371 95h22v1h-22zM372 96h22v1h-22zM393 97h2v1h-2zM394 98h4v1h-4zM395 99h4v1h-4zM398 100h2v1h-2zM399 101h7v1h-7zM400 102h7v1h-7zM406 103h2v1h-2zM407 104h2v1h-2zM408 105h2v1h-2zM409 106h2v1h-2zM410 107h5v1h-5zM411 108h4v1h-4zM414 109h2v1h-2zM415 110h5v2h-5zM419 112h2v1h-2zM420 113h6v1h-6zM420 114h7v1h-7zM426 115h1v1h-1zM426 116h2v1h-2zM427 117h1v1h-1zM427 118h2v1h-2zM428 119h1v1h-1zM428 120h2v1h-2zM429 121h2v1h-2zM430 122h2v1h-2zM431 123h2v1h-2zM432 124h1v1h-1zM432 125h2v1h-2zM433 126h1v2h-1zM433 128h2v1h-2zM434 129h1v3h-1zM434 132h2v1h-2zM435 133h1v1h-1zM435 134h2v1h-2zM436 135h1v1h-1zM436 136h2v1h-2zM437 137h1v1h-1zM437 138h6v1h-6zM438 139h5v1h-5zM442 140h2v1h-2zM443 141h1v1h-1zM443 142h2v1h-2zM444 143h1v1h-1zM444 144h2v1h-2zM445 145h1v1h-1zM445 146h2v1h-2zM446 147h1v1h-1zM446 148h2v1h-2zM447 149h1v2h-1zM447 151h2v1h-2zM448 152h1v3h-1zM448 155h4v1h-4zM449 156h2v2h-2zM449 158h1v1h-1zM451 153h4v1h-4zM451 154h1v1h-1zM452 152h7v1h-7zM455 151h3v1h-3zM458 153h1v1h-1zM458 154h3v1h-3zM459 155h1v1h-1zM460 153h4v1h-4zM461 152h2v1h-2zM462 151h1v1h-1zM463 154h1v2h-1zM463 156h2v1h-2zM464 157h1v2h-1zM464 159h4v1h-4zM465 160h2v1h-2zM465 161h1v1h-1zM467 158h4v1h-4zM468 157h2v1h-2zM470 159h4v1h-4zM471 160h2v1h-2zM472 161h1v1h-1zM473 156h2v1h-2zM473 157h1v2h-1zM474 154h8v1h-8zM474 155h7v1h-7zM481 152h3v1h-3zM481 153h1v1h-1zM482 151h1v1h-1zM483 153h2v1h-2zM484 154h2v1h-2zM485 155h1v1h-1zM485 156h2v1h-2zM486 157h3v1h-3zM487 158h1v1h-1zM488 156h2v1h-2zM489 155h3v1h-3zM490 154h1v1h-1zM491 156h1v1h-1zM491 157h2v1h-2zM492 158h1v1h-1zM492 159h2v1h-2zM493 160h4v1h-4zM493 161h3v1h-3zM496 158h2v1h-2zM496 159h1v1h-1zM497 157h2v1h-2zM498 155h8v1h-8zM498 156h1v1h-1zM499 154h8v1h-8zM506 152h2v1h-2zM506 153h1v1h-1zM507 150h2v1h-2zM507 151h1v1h-1zM508 148h6v2h-6zM513 150h2v1h-2zM514 151h1v2h-1zM514 153h2v1h-2zM515 154h1v2h-1zM515 156h2v1h-2zM516 157h7v1h-7zM516 158h6v1h-6zM522 155h2v1h-2zM522 156h1v1h-1zM523 153h2v1h-2zM523 154h1v1h-1zM524 151h3v1h-3zM524 152h4v1h-4zM527 153h2v1h-2zM528 154h2v1h-2zM529 155h1v3h-1zM529 158h2v1h-2zM530 159h1v5h-1zM530 164h2v1h-2zM531 165h1v2h-1zM531 167h2v1h-2zM532 168h1v1h-1zM532 169h2v1h-2zM533 170h1v2h-1zM533 172h2v1h-2zM534 173h1v3h-1zM534 176h2v1h-2zM535 177h1v3h-1zM535 180h2v1h-2zM536 181h1v2h-1zM536 183h2v1h-2zM537 184h4v1h-4zM538 185h2v1h-2zM539 186h1v1h-1zM540 181h2v1h-2zM540 182h1v2h-1zM541 178h2v1h-2zM541 179h1v2h-1zM542 176h2v1h-2zM542 177h1v1h-1zM543 174h2v1h-2zM543 175h1v1h-1zM544 172h6v2h-6zM549 171h2v1h-2zM550 169h2v1h-2zM550 170h1v1h-1zM551 167h2v1h-2zM551 168h1v1h-1zM552 165h4v1h-4zM552 166h5v1h-5zM556 167h1v1h-1zM556 168h4v1h-4zM557 169h2v1h-2zM557 170h1v1h-1zM559 167h2v1h-2zM560 166h8v1h-8zM561 165h8v1h-8zM568 164h2v1h-2zM569 162h2v1h-2zM569 163h1v1h-1zM570 161h13v1h-13zM571 160h13v1h-13zM583 159h2v1h-2zM584 158h6v1h-6zM585 157h4v1h-4zM589 159h1v1h-1zM589 160h7v1h-7zM590 161h5v1h-5zM595 159h2v1h-2zM596 158h2v1h-2zM597 157h2v1h-2zM598 156h2v1h-2zM599 155h2v1h-2zM600 154h2v1h-2zM601 153h2v1h-2zM602 152h3v1h-3zM603 151h4v1h-4zM605 150h4v1h-4zM607 149h4v1h-4zM609 148h4v1h-4zM611 147h3v1h-3zM613 146h2v1h-2zM614 145h3v1h-3zM615 144h4v1h-4zM617 143h4v1h-4zM619 142h9v1h-9zM621 141h8v1h-8zM628 140h2v1h-2zM629 139h2v1h-2zM630 137h2v1h-2zM630 138h1v1h-1zM631 136h7v1h-7zM632 135h7v1h-7zM638 134h2v1h-2zM639 133h2v1h-2zM640 131h2v1h-2zM640 132h1v1h-1zM641 130h10v1h-10zM642 129h10v1h-10zM651 127h3v1h-3zM651 128h1v1h-1zM652 126h1v1h-1zM653 128h2v1h-2zM654 129h5v1h-5zM655 130h5v1h-5zM659 131h1v1h-1zM659 132h18v1h-18zM660 133h18v1h-18zM677 134h1v1h-1zM677 135h7v1h-7zM678 136h7v1h-7zM684 137h2v1h-2zM685 138h44v1h-44zM686 139h42v1h-42zM728 137h3v1h-3zM729 136h3v1h-3zM731 135h2v1h-2zM732 134h3v1h-3zM733 133h10v1h-10zM735 132h9v1h-9zM743 131h3v1h-3zM744 130h7v1h-7zM746 129h6v1h-6zM751 128h2v1h-2zM752 127h2v1h-2zM753 126h2v1h-2zM754 125h2v1h-2zM755 124h8v1h-8zM756 123h8v1h-8zM763 122h3v1h-3zM764 121h12v1h-12zM766 120h11v1h-11zM776 118h9v1h-9zM776 119h1v1h-1zM777 117h9v1h-9zM785 115h4v1h-4zM785 116h1v1h-1zM786 113h1v1h-1zM786 114h2v1h-2zM788 116h1v1h-1zM788 117h12v1h-12zM789 118h12v1h-12zM800 119h2v1h-2zM801 120h5v1h-5zM802 121h4v1h-4z"/>
<path fill="#228b22" shape-rendering="crispEdges" d="M70 150h3v2h-3zM72 152h2v1h-2zM73 153h1v1h-1zM73 154h2v1h-2zM74 155h1v3h-1zM74 158h2v1h-2zM75 159h1v3h-1zM75 162h2v1h-2zM76 163h1v1h-1zM76 164h5v2h-5zM80 166h1v2h-1zM80 168h2v1h-2zM81 169h1v6h-1zM81 175h2v1h-2zM82 176h1v2h-1zM82 178h30v2h-30zM111 180h1v1h-1zM111 181h2v1h-2zM112 182h1v4h-1zM112 186h2v1h-2zM113 187h1v4h-1zM113 191h2v1h-2zM114 192h1v1h-1zM114 193h6v2h-6zM119 191h2v1h-2zM119 192h1v1h-1zM120 186h2v1h-2zM120 187h1v4h-1zM121 181h2v1h-2zM121 182h1v4h-1zM122 178h5v2h-5zM122 180h1v1h-1zM126 180h1v1h-1zM126 181h2v1h-2zM127 182h1v4h-1zM127 186h2v1h-2zM128 187h1v4h-1zM128 191h2v1h-2zM129 192h1v1h-1zM129 193h14v2h-14zM142 195h1v1h-1zM142 196h2v1h-2zM143 197h1v3h-1zM143 200h2v1h-2zM144 201h1v4h-1zM144 205h2v1h-2zM145 206h1v1h-1zM145 207h26v2h-26zM170 209h2v1h-2zM171 210h1v3h-1zM171 213h2v1h-2zM172 214h1v2h-1zM172 216h2v1h-2zM173 217h1v3h-1zM173 220h2v1h-2zM174 221h13v2h-13zM186 223h1v1h-1zM186 224h2v1h-2zM187 225h1v3h-1zM187 228h2v1h-2zM188 229h1v4h-1zM188 233h2v1h-2zM189 234h1v1h-1zM189 235h4v2h-4zM192 237h2v1h-2zM193 238h1v3h-1zM193 241h2v1h-2zM194 242h1v2h-1zM194 244h2v1h-2zM195 245h1v3h-1zM195 248h2v1h-2zM196 249h6v2h-6zM201 247h2v1h-2zM201 248h1v1h-1zM202 243h2v1h-2zM202 244h1v3h-1zM203 238h2v1h-2zM203 239h1v4h-1zM204 235h14v2h-14zM204 237h1v1h-1zM217 237h1v1h-1zM217 238h2v1h-2zM218 239h1v3h-1zM218 242h2v1h-2zM219 243h1v4h-1zM219 247h2v1h-2zM220 248h1v1h-1zM220 249h36v2h-36zM255 251h2v1h-2zM256 252h1v3h-1zM256 255h2v1h-2zM257 256h1v2h-1zM257 258h2v1h-2zM258 259h1v3h-1zM258 262h2v1h-2zM259 263h36v2h-36zM294 261h2v1h-2zM294 262h1v1h-1zM295 257h2v1h-2zM295 258h1v3h-1zM296 252h2v1h-2zM296 253h1v4h-1zM297 249h21v2h-21zM297 251h1v1h-1zM317 243h2v1h-2zM317 244h1v5h-1zM318 229h2v1h-2zM318 230h1v13h-1zM319 215h2v1h-2zM319 216h1v13h-1zM320 207h5v2h-5zM320 209h1v6h-1zM324 209h1v3h-1zM324 212h2v1h-2zM325 213h1v8h-1zM325 221h2v1h-2zM326 222h1v9h-1zM326 231h2v1h-2zM327 232h1v3h-1zM327 235h14v2h-14zM340 237h2v1h-2zM341 238h1v3h-1zM341 241h2v1h-2zM342 242h1v2h-1zM342 244h2v1h-2zM343 245h1v3h-1zM343 248h2v1h-2zM344 249h21v2h-21zM364 243h2v1h-2zM364 244h1v5h-1zM365 229h2v1h-2zM365 230h1v13h-1zM366 215h2v1h-2zM366 216h1v13h-1zM367 207h21v2h-21zM367 209h1v6h-1zM387 209h1v1h-1zM387 210h2v1h-2zM388 211h1v3h-1zM388 214h2v1h-2zM389 215h1v4h-1zM389 219h2v1h-2zM390 220h1v1h-1zM390 221h5v2h-5zM394 219h2v1h-2zM394 220h1v1h-1zM395 215h2v1h-2zM395 216h1v3h-1zM396 210h2v1h-2zM396 211h1v4h-1zM397 207h14v2h-14zM397 209h1v1h-1zM410 209h2v1h-2zM411 210h1v3h-1zM411 213h2v1h-2zM412 214h1v2h-1zM412 216h2v1h-2zM413 217h1v3h-1zM413 220h2v1h-2zM414 221h4v2h-4zM417 220h2v1h-2zM418 216h2v1h-2zM418 217h1v3h-1zM419 213h2v1h-2zM419 214h1v2h-1zM420 209h2v1h-2zM420 210h1v3h-1zM421 207h5v2h-5zM425 209h2v1h-2zM426 210h1v3h-1zM426 213h2v1h-2zM427 214h1v2h-1zM427 216h2v1h-2zM428 217h1v3h-1zM428 220h2v1h-2zM429 221h36v2h-36zM464 220h2v1h-2zM465 217h2v1h-2zM465 218h1v2h-1zM466 215h2v1h-2zM466 216h1v1h-1zM467 212h2v1h-2zM467 213h1v2h-1zM468 209h2v1h-2zM468 210h1v2h-1zM469 207h4v2h-4zM472 205h2v1h-2zM472 206h1v1h-1zM473 201h2v1h-2zM473 202h1v3h-1zM474 196h2v1h-2zM474 197h1v4h-1zM475 193h5v2h-5zM475 195h1v1h-1zM479 195h2v1h-2zM480 196h1v3h-1zM480 199h2v1h-2zM481 200h1v2h-1zM481 202h2v1h-2zM482 203h1v3h-1zM482 206h2v1h-2zM483 207h5v2h-5zM487 209h1v1h-1zM487 210h2v1h-2zM488 211h1v3h-1zM488 214h2v1h-2zM489 215h1v4h-1zM489 219h2v1h-2zM490 220h1v1h-1zM490 221h13v2h-13zM502 219h2v1h-2zM502 220h1v1h-1zM503 215h2v1h-2zM503 216h1v3h-1zM504 210h2v1h-2zM504 211h1v4h-1zM505 207h37v2h-37zM505 209h1v1h-1zM541 206h2v1h-2zM542 202h2v1h-2zM542 203h1v3h-1zM543 199h2v1h-2zM543 200h1v2h-1zM544 195h2v1h-2zM544 196h1v3h-1zM545 193h59v2h-59zM603 191h2v1h-2zM603 192h1v1h-1zM604 186h2v1h-2zM604 187h1v4h-1zM605 181h2v1h-2zM605 182h1v4h-1zM606 178h7v2h-7zM606 180h1v1h-1zM612 175h2v1h-2zM612 176h1v2h-1zM613 168h2v1h-2zM613 169h1v6h-1zM614 164h6v2h-6zM614 166h1v2h-1zM619 166h1v2h-1zM619 168h2v1h-2zM620 169h1v6h-1zM620 175h2v1h-2zM621 176h1v2h-1zM621 178h7v2h-7zM627 180h1v2h-1zM627 182h2v1h-2zM628 183h1v7h-1zM628 190h2v1h-2zM629 191h1v2h-1zM629 193h22v2h-22zM650 190h2v1h-2zM650 191h1v2h-1zM651 182h2v1h-2zM651 183h1v7h-1zM652 178h7v2h-7zM652 180h1v2h-1zM658 180h1v1h-1zM658 181h2v1h-2zM659 182h1v4h-1zM659 186h2v1h-2zM660 187h1v4h-1zM660 191h2v1h-2zM661 192h1v1h-1zM661 193h5v2h-5zM665 192h2v1h-2zM666 188h2v1h-2zM666 189h1v3h-1zM667 184h2v1h-2zM667 185h1v3h-1zM668 180h2v1h-2zM668 181h1v3h-1zM669 178h26v2h-26zM694 180h1v1h-1zM694 181h2v1h-2zM695 182h1v4h-1zM695 186h2v1h-2zM696 187h1v4h-1zM696 191h2v1h-2zM697 192h1v1h-1zM697 193h5v2h-5zM701 191h2v1h-2zM701 192h1v1h-1zM702 186h2v1h-2zM702 187h1v4h-1zM703 181h2v1h-2zM703 182h1v4h-1zM704 178h52v2h-52zM704 180h1v1h-1zM755 180h2v1h-2zM756 181h1v3h-1zM756 184h2v1h-2zM757 185h1v3h-1zM757 188h2v1h-2zM758 189h1v3h-1zM758 192h2v1h-2zM759 193h21v2h-21zM779 189h2v1h-2zM779 190h1v3h-1zM780 179h2v1h-2zM780 180h1v9h-1zM781 169h2v1h-2zM781 170h1v9h-1zM782 164h5v2h-5zM782 166h1v3h-1zM786 166h1v2h-1zM786 168h2v1h-2zM787 169h1v6h-1zM787 175h2v1h-2zM788 176h1v7h-1zM788 183h2v1h-2zM789 184h1v6h-1zM789 190h2v1h-2zM790 191h1v2h-1zM790 193h5v2h-5zM794 191h2v1h-2zM794 192h1v1h-1zM795 186h2v1h-2zM795 187h1v4h-1zM796 181h2v1h-2zM796 182h1v4h-1zM797 178h6v2h-6zM797 180h1v1h-1zM802 176h2v1h-2zM802 177h1v1h-1zM803 172h2v1h-2zM803 173h1v3h-1zM804 167h2v1h-2zM804 168h1v4h-1zM805 164h1v3h-1z"/>
<path fill="#00bfff" shape-rendering="crispEdges" d="M263 362h2v1h-2zM263 363h1v3h-1zM264 357h2v1h-2zM264 358h1v4h-1zM265 352h2v1h-2zM265 353h1v4h-1zM266 349h16v2h-16zM266 351h1v1h-1zM281 347h2v1h-2zM281 348h1v1h-1zM282 342h2v1h-2zM282 343h1v4h-1zM283 337h2v1h-2zM283 338h1v4h-1zM284 334h18v2h-18zM284 336h1v1h-1zM301 333h2v1h-2zM302 331h2v1h-2zM302 332h1v1h-1zM303 328h2v1h-2zM303 329h1v2h-1zM304 326h2v1h-2zM304 327h1v1h-1zM305 321h2v1h-2zM305 322h1v4h-1zM306 314h2v1h-2zM306 315h1v6h-1zM307 308h2v1h-2zM307 309h1v5h-1zM308 301h2v1h-2zM308 302h1v6h-1zM309 295h2v1h-2zM309 296h1v5h-1zM310 290h2v1h-2zM310 291h1v4h-1zM311 286h2v1h-2zM311 287h1v3h-1zM312 281h2v1h-2zM312 282h1v4h-1zM313 276h2v1h-2zM313 277h1v4h-1zM314 272h2v1h-2zM314 273h1v3h-1zM315 267h2v1h-2zM315 268h1v4h-1zM316 264h21v1h-21zM316 265h20v1h-20zM316 266h1v1h-1zM336 262h2v1h-2zM336 263h1v1h-1zM337 260h2v1h-2zM337 261h1v1h-1zM338 258h2v1h-2zM338 259h1v1h-1zM339 256h423v2h-423zM761 255h2v1h-2zM762 251h2v1h-2zM762 252h1v3h-1zM763 248h4v2h-4zM763 250h1v1h-1zM766 247h2v1h-2zM767 245h2v1h-2zM767 246h1v1h-1zM768 242h2v1h-2zM768 243h1v2h-1zM769 240h37v2h-37z"/>
<path fill="#000000" shape-rendering="crispEdges" d="M70 277h8v2h-8zM77 279h1v1h-1zM77 280h2v1h-2zM78 281h1v5h-1zM78 286h2v1h-2zM79 287h1v5h-1zM79 292h2v1h-2zM80 293h1v3h-1zM80 296h2v1h-2zM81 297h1v2h-1zM81 299h2v1h-2zM82 300h1v2h-1zM82 302h2v1h-2zM83 303h8v2h-8zM90 305h1v2h-1zM90 307h2v1h-2zM91 308h1v5h-1zM91 313h2v1h-2zM92 314h1v4h-1zM92 318h3v1h-3zM92 319h2v1h-2zM93 320h1v4h-1zM94 310h2v1h-2zM94 311h1v7h-1zM95 305h9v2h-9zM95 307h1v3h-1zM103 304h2v1h-2zM104 302h2v1h-2zM104 303h1v1h-1zM105 299h2v1h-2zM105 300h1v2h-1zM106 297h2v1h-2zM106 298h1v1h-1zM107 295h5v2h-5zM111 297h2v1h-2zM112 298h1v2h-1zM112 300h2v1h-2zM113 301h1v2h-1zM113 303h2v1h-2zM114 304h1v2h-1zM114 306h2v1h-2zM115 307h1v2h-1zM115 309h2v1h-2zM116 310h1v3h-1zM116 313h2v1h-2zM117 314h1v1h-1zM117 315h2v1h-2zM118 316h1v1h-1zM118 317h2v1h-2zM119 318h1v1h-1zM119 319h2v1h-2zM120 320h1v1h-1zM120 321h2v1h-2zM121 322h1v1h-1zM121 323h3v1h-3zM122 324h2v1h-2zM122 325h1v1h-1zM123 322h2v1h-2zM124 321h2v1h-2zM125 319h8v1h-8zM125 320h1v1h-1zM126 318h6v1h-6zM132 320h2v1h-2zM133 321h2v1h-2zM134 322h2v1h-2zM135 323h2v1h-2zM136 324h3v1h-3zM137 325h4v1h-4zM139 326h2v1h-2zM140 327h2v1h-2zM141 328h3v1h-3zM141 329h2v1h-2zM142 330h1v2h-1zM143 323h2v1h-2zM143 324h1v4h-1zM144 318h2v1h-2zM144 319h1v4h-1zM145 315h5v2h-5zM145 317h1v1h-1zM149 317h1v2h-1zM149 319h2v1h-2zM150 320h1v5h-1zM150 325h2v1h-2zM151 326h1v5h-1zM151 331h3v1h-3zM152 332h2v2h-2zM152 334h1v2h-1zM153 329h2v1h-2zM153 330h1v1h-1zM154 326h2v1h-2zM154 327h1v2h-1zM155 324h2v1h-2zM155 325h1v1h-1zM156 321h2v1h-2zM156 322h1v2h-1zM157 319h2v1h-2zM157 320h1v1h-1zM158 317h2v1h-2zM158 318h1v1h-1zM159 316h2v1h-2zM160 314h5v1h-5zM160 315h1v1h-1zM161 313h4v1h-4zM164 315h1v2h-1zM164 317h2v1h-2zM165 318h1v5h-1zM165 323h2v1h-2zM166 324h1v6h-1zM166 330h2v1h-2zM167 331h1v3h-1zM167 334h3v1h-3zM167 335h2v2h-2zM168 337h1v4h-1zM169 323h2v1h-2zM169 324h1v10h-1zM170 314h2v1h-2zM170 315h1v8h-1zM171 307h2v1h-2zM171 308h1v6h-1zM172 301h2v1h-2zM172 302h1v5h-1zM173 294h2v1h-2zM173 295h1v6h-1zM174 290h7v1h-7zM174 291h6v1h-6zM174 292h1v2h-1zM180 289h5v1h-5zM181 288h4v1h-4zM184 290h2v1h-2zM185 291h1v1h-1zM185 292h2v1h-2zM186 293h1v1h-1zM186 294h2v1h-2zM187 295h1v1h-1zM187 296h2v1h-2zM188 297h2v1h-2zM189 298h2v1h-2zM190 299h2v1h-2zM191 300h2v1h-2zM192 301h2v1h-2zM193 302h2v1h-2zM194 303h1v1h-1zM194 304h2v1h-2zM195 305h2v1h-2zM196 306h1v4h-1zM196 310h2v1h-2zM197 311h1v7h-1zM197 318h2v1h-2zM198 319h1v7h-1zM198 326h2v1h-2zM199 327h1v2h-1zM199 329h3v1h-3zM199 330h2v1h-2zM199 331h1v1h-1zM201 328h14v1h-14zM202 327h13v1h-13zM214 329h2v1h-2zM215 330h1v1h-1zM215 331h2v1h-2zM216 332h1v1h-1zM216 333h3v1h-3zM217 334h1v2h-1zM218 330h2v1h-2zM218 331h1v2h-1zM219 327h2v1h-2zM219 328h1v2h-1zM220 324h2v1h-2zM220 325h1v2h-1zM221 321h2v1h-2zM221 322h1v2h-1zM222 319h2v1h-2zM222 320h1v1h-1zM223 316h2v1h-2zM223 317h1v2h-1zM224 314h8v1h-8zM224 315h7v1h-7zM231 313h2v1h-2zM232 312h2v1h-2zM233 311h2v1h-2zM234 310h2v1h-2zM235 309h8v1h-8zM236 308h7v1h-7zM242 310h2v1h-2zM243 311h1v2h-1zM243 313h2v1h-2zM244 314h1v3h-1zM244 317h3v1h-3zM245 318h1v2h-1zM246 315h2v1h-2zM246 316h1v1h-1zM247 312h2v1h-2zM247 313h1v2h-1zM248 310h8v1h-8zM248 311h9v1h-9zM256 312h1v1h-1zM256 313h2v1h-2zM257 314h1v1h-1zM257 315h2v1h-2zM258 316h2v1h-2zM259 317h1v1h-1zM259 318h2v1h-2zM260 319h1v1h-1zM260 320h2v1h-2zM261 321h1v1h-1zM261 322h5v1h-5zM262 323h4v1h-4zM265 324h2v1h-2zM266 325h1v1h-1zM266 326h2v1h-2zM267 327h1v2h-1zM267 329h2v1h-2zM268 330h1v1h-1zM268 331h2v1h-2zM269 332h3v2h-3zM271 334h1v1h-1zM271 335h2v1h-2zM272 336h1v3h-1zM272 339h2v1h-2zM273 340h1v3h-1zM273 343h2v1h-2zM274 344h11v1h-11zM274 345h2v1h-2zM274 346h1v1h-1zM276 343h9v1h-9zM284 345h1v1h-1zM284 346h2v1h-2zM285 347h1v3h-1zM285 350h2v1h-2zM286 351h1v1h-1zM286 352h2v1h-2zM286 353h14v1h-14zM288 354h12v1h-12zM299 352h2v1h-2zM300 350h2v1h-2zM300 351h1v1h-1zM301 348h3v1h-3zM301 349h1v1h-1zM302 347h3v1h-3zM304 344h2v1h-2zM304 345h1v2h-1zM305 340h2v1h-2zM305 341h1v3h-1zM306 335h2v1h-2zM306 336h1v4h-1zM307 331h9v1h-9zM307 332h1v3h-1zM308 330h8v1h-8zM315 321h2v1h-2zM315 322h1v8h-1zM316 301h2v1h-2zM316 302h1v19h-1zM317 290h9v2h-9zM317 292h1v9h-1zM325 292h1v7h-1zM325 299h2v1h-2zM326 300h1v15h-1zM326 315h2v1h-2zM327 316h1v15h-1zM327 331h2v1h-2zM328 332h1v7h-1zM328 339h5v1h-5zM328 340h4v1h-4zM332 338h2v1h-2zM333 336h2v1h-2zM333 337h1v1h-1zM334 333h2v1h-2zM334 334h1v2h-1zM335 329h2v1h-2zM335 330h1v3h-1zM336 325h2v1h-2zM336 326h1v3h-1zM337 321h2v1h-2zM337 322h1v3h-1zM338 317h2v1h-2zM338 318h1v3h-1zM339 314h19v2h-19zM339 316h1v1h-1zM357 316h1v3h-1zM357 319h2v1h-2zM358 320h1v8h-1zM358 328h2v1h-2zM359 329h1v3h-1zM359 332h2v1h-2zM359 333h5v1h-5zM361 334h7v1h-7zM364 335h8v1h-8zM368 336h6v1h-6zM372 337h4v1h-4zM374 338h1v1h-1zM375 336h2v1h-2zM376 334h3v1h-3zM376 335h1v1h-1zM377 333h5v1h-5zM379 332h4v1h-4zM382 330h2v1h-2zM382 331h1v1h-1zM383 328h2v1h-2zM383 329h1v1h-1zM384 326h2v1h-2zM384 327h1v1h-1zM385 325h2v1h-2zM386 323h2v1h-2zM386 324h1v1h-1zM387 321h2v1h-2zM387 322h1v1h-1zM388 319h2v1h-2zM388 320h1v1h-1zM389 318h2v1h-2zM390 316h2v1h-2zM390 317h1v1h-1zM391 314h5v1h-5zM391 315h1v1h-1zM392 312h1v1h-1zM392 313h3v1h-3zM395 315h2v1h-2zM396 316h1v1h-1zM396 317h2v1h-2zM397 318h2v1h-2zM398 319h1v1h-1zM398 320h2v1h-2zM399 321h3v1h-3zM399 322h2v1h-2zM400 323h1v1h-1zM401 318h2v1h-2zM401 319h1v2h-1zM402 315h2v1h-2zM402 316h1v2h-1zM403 312h2v1h-2zM403 313h1v2h-1zM404 310h7v1h-7zM404 311h1v1h-1zM405 309h7v1h-7zM411 308h2v1h-2zM412 307h7v1h-7zM413 306h6v1h-6zM418 308h1v3h-1zM418 311h2v1h-2zM419 312h1v8h-1zM419 320h3v1h-3zM420 321h2v2h-2zM420 323h1v3h-1zM421 317h2v1h-2zM421 318h1v2h-1zM422 314h2v1h-2zM422 315h1v2h-1zM423 312h6v1h-6zM423 313h8v1h-8zM429 314h3v1h-3zM431 315h2v1h-2zM432 316h5v1h-5zM433 317h4v1h-4zM436 314h2v1h-2zM436 315h1v1h-1zM437 308h2v1h-2zM437 309h1v5h-1zM438 304h5v2h-5zM438 306h1v2h-1zM442 301h5v2h-5zM442 303h1v1h-1zM446 303h2v1h-2zM447 304h1v3h-1zM447 307h2v1h-2zM448 308h1v6h-1zM448 314h3v1h-3zM449 315h2v2h-2zM449 317h1v3h-1zM450 310h2v1h-2zM450 311h1v3h-1zM451 305h2v1h-2zM451 306h1v4h-1zM452 303h8v2h-8zM459 301h2v1h-2zM459 302h1v1h-1zM460 297h2v1h-2zM460 298h1v3h-1zM461 293h2v1h-2zM461 294h1v3h-1zM462 289h2v1h-2zM462 290h1v3h-1zM463 285h2v1h-2zM463 286h1v3h-1zM464 282h2v1h-2zM464 283h1v2h-1zM465 279h2v1h-2zM465 280h1v2h-1zM466 275h2v1h-2zM466 276h1v3h-1zM467 273h6v2h-6zM472 275h2v1h-2zM473 276h1v3h-1zM473 279h2v1h-2zM474 280h1v3h-1zM474 283h2v1h-2zM475 284h1v1h-1zM475 285h3v1h-3zM476 286h4v1h-4zM478 287h6v1h-6zM480 288h2v1h-2zM482 286h10v1h-10zM484 285h7v1h-7zM491 287h1v1h-1zM491 288h3v1h-3zM492 289h1v2h-1zM493 284h2v1h-2zM493 285h1v3h-1zM494 280h2v1h-2zM494 281h1v3h-1zM495 278h8v1h-8zM495 279h4v1h-4zM499 277h6v1h-6zM503 276h10v1h-10zM505 275h7v1h-7zM512 277h1v1h-1zM512 278h2v1h-2zM513 279h1v1h-1zM513 280h2v1h-2zM514 281h1v3h-1zM514 284h2v1h-2zM515 285h1v6h-1zM515 291h2v1h-2zM516 292h1v6h-1zM516 298h3v1h-3zM517 299h2v2h-2zM517 301h1v2h-1zM518 296h2v1h-2zM518 297h1v1h-1zM519 292h2v1h-2zM519 293h1v3h-1zM520 288h2v1h-2zM520 289h1v3h-1zM521 284h2v1h-2zM521 285h1v3h-1zM522 281h6v1h-6zM522 282h7v1h-7zM522 283h1v1h-1zM528 283h1v1h-1zM528 284h2v1h-2zM529 285h2v1h-2zM530 286h2v1h-2zM531 287h1v1h-1zM531 288h4v1h-4zM532 289h3v1h-3zM534 290h1v1h-1zM534 291h2v1h-2zM535 292h1v3h-1zM535 295h3v1h-3zM536 296h2v1h-2zM536 297h1v2h-1zM537 293h2v1h-2zM537 294h1v1h-1zM538 289h2v1h-2zM538 290h1v3h-1zM539 287h6v2h-6zM544 289h1v4h-1zM544 293h2v1h-2zM545 294h1v7h-1zM545 301h2v1h-2zM546 302h1v2h-1zM546 304h2v1h-2zM547 305h1v2h-1zM547 307h4v1h-4zM548 308h2v1h-2zM548 309h1v1h-1zM550 306h7v1h-7zM551 305h6v1h-6zM556 303h2v1h-2zM556 304h1v1h-1zM557 298h2v1h-2zM557 299h1v4h-1zM558 293h2v1h-2zM558 294h1v4h-1zM559 290h6v2h-6zM559 292h1v1h-1zM564 289h2v1h-2zM565 285h2v1h-2zM565 286h1v3h-1zM566 281h2v1h-2zM566 282h1v3h-1zM567 279h3v1h-3zM567 280h4v1h-4zM570 281h1v1h-1zM570 282h2v1h-2zM571 283h1v1h-1zM571 284h3v1h-3zM572 285h1v2h-1zM573 281h2v1h-2zM573 282h1v2h-1zM574 279h8v1h-8zM574 280h9v1h-9zM582 281h3v1h-3zM583 282h3v1h-3zM585 283h2v1h-2zM586 284h2v1h-2zM587 285h1v1h-1zM587 286h2v1h-2zM588 287h10v1h-10zM589 288h7v1h-7zM596 286h6v1h-6zM598 285h4v1h-4zM601 287h2v1h-2zM602 288h1v3h-1zM602 291h2v1h-2zM603 292h1v3h-1zM603 295h3v1h-3zM604 296h1v3h-1zM605 290h2v1h-2zM605 291h1v4h-1zM606 287h6v2h-6zM606 289h1v1h-1zM611 289h1v1h-1zM611 290h2v1h-2zM612 291h1v4h-1zM612 295h2v1h-2zM613 296h1v5h-1zM613 301h2v1h-2zM614 302h1v2h-1zM614 304h3v1h-3zM615 305h3v1h-3zM617 306h2v1h-2zM618 307h2v1h-2zM619 308h1v1h-1zM619 309h2v1h-2zM620 310h1v1h-1zM620 311h2v1h-2zM621 312h1v1h-1zM621 313h2v1h-2zM622 314h1v5h-1zM622 319h2v1h-2zM623 320h1v9h-1zM623 329h2v1h-2zM624 330h1v3h-1zM624 333h4v1h-4zM624 334h5v1h-5zM628 335h1v1h-1zM628 336h3v1h-3zM629 337h1v2h-1zM630 332h2v1h-2zM630 333h1v3h-1zM631 328h2v1h-2zM631 329h1v3h-1zM632 326h9v1h-9zM632 327h8v1h-8zM640 324h2v1h-2zM640 325h1v1h-1zM641 322h10v2h-10zM650 320h2v1h-2zM650 321h1v1h-1zM651 315h2v1h-2zM651 316h1v4h-1zM652 312h3v1h-3zM652 313h1v2h-1zM653 311h4v1h-4zM655 310h3v1h-3zM657 309h2v1h-2zM658 308h2v1h-2zM659 306h11v1h-11zM659 307h1v1h-1zM660 305h10v1h-10zM669 307h1v1h-1zM669 308h2v1h-2zM670 309h1v5h-1zM670 314h2v1h-2zM671 315h1v1h-1zM671 316h8v1h-8zM671 317h6v1h-6zM677 315h8v1h-8zM679 314h6v1h-6zM684 313h2v1h-2zM685 310h2v1h-2zM685 311h1v2h-1zM686 306h2v1h-2zM686 307h1v3h-1zM687 304h11v1h-11zM687 305h13v1h-13zM698 306h9v1h-9zM700 307h8v1h-8zM707 308h3v1h-3zM708 309h7v1h-7zM710 310h6v1h-6zM715 311h11v1h-11zM716 312h10v1h-10zM725 313h1v1h-1zM725 314h2v1h-2zM726 315h1v5h-1zM726 320h2v1h-2zM727 321h1v5h-1zM727 326h2v1h-2zM728 327h1v7h-1zM728 334h2v1h-2zM729 335h1v8h-1zM729 343h2v1h-2zM730 344h1v3h-1zM730 347h3v2h-3zM732 346h2v1h-2zM733 342h2v1h-2zM733 343h1v3h-1zM734 338h2v1h-2zM734 339h1v3h-1zM735 335h7v1h-7zM735 336h8v1h-8zM735 337h1v1h-1zM742 337h1v1h-1zM742 338h2v1h-2zM743 339h2v1h-2zM744 340h1v1h-1zM744 341h2v1h-2zM745 342h1v1h-1zM745 343h10v1h-10zM746 344h10v1h-10zM755 345h3v1h-3zM755 346h2v1h-2zM756 347h1v1h-1zM757 343h2v1h-2zM757 344h1v1h-1zM758 341h2v1h-2zM758 342h1v1h-1zM759 339h6v2h-6zM764 338h2v1h-2zM765 335h2v1h-2zM765 336h1v2h-1zM766 332h2v1h-2zM766 333h1v2h-1zM767 330h3v2h-3zM769 332h2v1h-2zM770 333h1v2h-1zM770 335h2v1h-2zM771 336h1v2h-1zM771 338h2v1h-2zM772 339h1v1h-1zM772 340h2v1h-2zM773 341h2v1h-2zM774 342h2v1h-2zM775 343h6v1h-6zM776 344h5v1h-5zM780 342h2v1h-2zM781 340h2v1h-2zM781 341h1v1h-1zM782 338h2v1h-2zM782 339h1v1h-1zM783 336h2v1h-2zM783 337h1v1h-1zM784 334h7v1h-7zM784 335h6v1h-6zM790 332h2v1h-2zM790 333h1v1h-1zM791 330h6v2h-6zM796 332h2v1h-2zM797 333h1v1h-1zM797 334h2v1h-2zM798 335h1v1h-1zM798 336h6v1h-6zM799 337h3v1h-3zM799 338h1v1h-1zM802 335h4v1h-4zM804 334h2v1h-2z"/>
<path fill="#0000cd" shape-rendering="crispEdges" d="M70 256h8v2h-8zM77 258h1v1h-1zM77 259h2v1h-2zM78 260h1v5h-1zM78 265h2v1h-2zM79 266h1v4h-1zM79 270h2v1h-2zM80 271h1v5h-1zM80 276h2v1h-2zM81 277h1v1h-1zM81 278h5v2h-5zM85 280h2v1h-2zM86 281h1v2h-1zM86 283h2v1h-2zM87 284h1v3h-1zM87 287h2v1h-2zM88 288h1v2h-1zM88 290h2v1h-2zM89 291h7v1h-7zM89 292h6v1h-6zM95 290h4v1h-4zM96 289h3v1h-3zM98 291h2v1h-2zM99 292h1v1h-1zM99 293h2v1h-2zM100 294h1v2h-1zM100 296h2v1h-2zM101 297h3v2h-3zM103 294h2v1h-2zM103 295h1v2h-1zM104 287h2v1h-2zM104 288h1v6h-1zM105 280h2v1h-2zM105 281h1v6h-1zM106 274h2v1h-2zM106 275h1v5h-1zM107 267h2v1h-2zM107 268h1v6h-1zM108 260h2v1h-2zM108 261h1v6h-1zM109 256h5v2h-5zM109 258h1v2h-1zM113 258h1v3h-1zM113 261h2v1h-2zM114 262h1v7h-1zM114 269h2v1h-2zM115 270h1v7h-1zM115 277h2v1h-2zM116 278h1v7h-1zM116 285h2v1h-2zM117 286h1v5h-1zM117 291h2v1h-2zM118 292h1v2h-1zM118 294h2v1h-2zM119 295h1v3h-1zM119 298h2v1h-2zM120 299h1v3h-1zM120 302h2v1h-2zM121 303h1v4h-1zM121 307h2v1h-2zM122 308h1v1h-1zM122 309h3v2h-3zM124 305h2v1h-2zM124 306h1v3h-1zM125 295h2v1h-2zM125 296h1v9h-1zM126 289h4v2h-4zM126 291h1v4h-1zM129 291h1v3h-1zM129 294h2v1h-2zM130 295h1v9h-1zM130 304h2v1h-2zM131 305h1v1h-1zM131 306h3v1h-3zM131 307h2v2h-2zM131 309h1v1h-1zM133 304h8v1h-8zM133 305h1v1h-1zM134 303h6v1h-6zM140 305h1v1h-1zM140 306h2v1h-2zM141 307h1v1h-1zM141 308h3v1h-3zM142 309h1v2h-1zM143 306h2v1h-2zM143 307h1v1h-1zM144 303h2v1h-2zM144 304h1v2h-1zM145 301h5v2h-5zM149 303h1v2h-1zM149 305h2v1h-2zM150 306h1v5h-1zM150 311h2v1h-2zM151 312h1v5h-1zM151 317h2v1h-2zM152 318h3v1h-3zM152 319h2v2h-2zM152 321h1v1h-1zM154 316h2v1h-2zM154 317h1v1h-1zM155 314h2v1h-2zM155 315h1v1h-1zM156 313h2v1h-2zM157 312h3v1h-3zM158 311h8v1h-8zM160 310h6v1h-6zM165 312h1v2h-1zM165 314h2v1h-2zM166 315h1v5h-1zM166 320h2v1h-2zM167 321h1v4h-1zM167 325h3v1h-3zM167 326h2v1h-2zM168 327h1v4h-1zM169 315h2v1h-2zM169 316h1v9h-1zM170 305h2v1h-2zM170 306h1v9h-1zM171 293h2v1h-2zM171 294h1v11h-1zM172 279h2v1h-2zM172 280h1v13h-1zM173 265h2v1h-2zM173 266h1v13h-1zM174 258h7v2h-7zM174 260h1v5h-1zM180 260h1v1h-1zM180 261h2v1h-2zM181 262h1v3h-1zM181 265h2v1h-2zM182 266h1v3h-1zM182 269h2v1h-2zM183 270h1v3h-1zM183 273h2v1h-2zM184 274h1v1h-1zM184 275h5v2h-5zM188 277h2v1h-2zM189 278h1v3h-1zM189 281h2v1h-2zM190 282h1v3h-1zM190 285h2v1h-2zM191 286h1v3h-1zM191 289h2v1h-2zM192 290h5v2h-5zM196 292h1v3h-1zM196 295h2v1h-2zM197 296h1v7h-1zM197 303h2v1h-2zM198 304h1v7h-1zM198 311h2v1h-2zM199 312h1v2h-1zM199 314h3v1h-3zM199 315h2v1h-2zM199 316h1v1h-1zM201 313h3v1h-3zM202 312h3v1h-3zM204 311h8v1h-8zM205 310h6v1h-6zM211 312h2v1h-2zM212 313h3v1h-3zM213 314h3v1h-3zM215 315h3v1h-3zM216 316h1v1h-1zM217 313h2v1h-2zM217 314h1v1h-1zM218 311h2v1h-2zM218 312h1v1h-1zM219 309h2v1h-2zM219 310h1v1h-1zM220 308h2v1h-2zM221 307h3v1h-3zM222 306h3v1h-3zM224 305h2v1h-2zM225 304h2v1h-2zM226 302h2v1h-2zM226 303h1v1h-1zM227 300h2v1h-2zM227 301h1v1h-1zM228 298h5v1h-5zM228 299h1v1h-1zM229 297h4v1h-4zM232 296h2v1h-2zM233 292h2v1h-2zM233 293h1v3h-1zM234 288h2v1h-2zM234 289h1v3h-1zM235 284h3v1h-3zM235 285h1v3h-1zM236 281h1v2h-1zM236 283h2v1h-2zM237 285h2v1h-2zM238 286h1v2h-1zM238 288h2v1h-2zM239 289h1v1h-1zM239 290h2v1h-2zM240 291h6v2h-6zM245 290h2v1h-2zM246 287h2v1h-2zM246 288h1v2h-1zM247 283h2v1h-2zM247 284h1v3h-1zM248 281h7v2h-7zM254 283h1v1h-1zM254 284h2v1h-2zM255 285h1v3h-1zM255 288h2v1h-2zM256 289h1v4h-1zM256 293h2v1h-2zM257 294h1v4h-1zM257 298h2v1h-2zM258 299h1v3h-1zM258 302h2v1h-2zM259 303h1v3h-1zM259 306h2v1h-2zM260 307h1v1h-1zM260 308h7v2h-7zM266 310h2v1h-2zM267 311h1v2h-1zM267 313h2v1h-2zM268 314h1v3h-1zM268 317h2v1h-2zM269 318h3v2h-3zM271 320h1v1h-1zM271 321h2v1h-2zM272 322h1v5h-1zM272 327h2v1h-2zM273 328h1v5h-1zM273 333h2v1h-2zM274 334h1v1h-1zM274 335h11v2h-11zM284 337h1v1h-1zM284 338h2v1h-2zM285 339h1v4h-1zM285 343h2v1h-2zM286 344h1v1h-1zM286 345h9v1h-9zM286 346h10v1h-10zM295 347h5v1h-5zM296 348h4v1h-4zM299 345h2v1h-2zM299 346h1v1h-1zM300 339h2v1h-2zM300 340h1v5h-1zM301 334h2v1h-2zM301 335h1v4h-1zM302 331h2v1h-2zM302 332h1v2h-1zM303 329h4v2h-4zM306 328h2v1h-2zM307 325h2v1h-2zM307 326h1v2h-1zM308 321h2v1h-2zM308 322h1v3h-1zM309 318h2v1h-2zM309 319h1v2h-1zM310 316h2v1h-2zM310 317h1v1h-1zM311 314h2v1h-2zM311 315h1v1h-1zM312 312h2v1h-2zM312 313h1v1h-1zM313 310h2v1h-2zM313 311h1v1h-1zM314 303h2v1h-2zM314 304h1v6h-1zM315 291h2v1h-2zM315 292h1v11h-1zM316 279h2v1h-2zM316 280h1v11h-1zM317 272h9v2h-9zM317 274h1v5h-1zM325 274h1v9h-1zM325 283h2v1h-2zM326 284h1v21h-1zM326 305h2v1h-2zM327 306h1v21h-1zM327 327h2v1h-2zM328 328h1v10h-1zM328 338h4v2h-4zM331 337h2v1h-2zM332 335h2v1h-2zM332 336h1v1h-1zM333 331h2v1h-2zM333 332h1v3h-1zM334 326h2v1h-2zM334 327h1v4h-1zM335 320h2v1h-2zM335 321h1v5h-1zM336 315h2v1h-2zM336 316h1v4h-1zM337 311h2v1h-2zM337 312h1v3h-1zM338 306h2v1h-2zM338 307h1v4h-1zM339 302h2v1h-2zM339 303h1v3h-1zM340 299h8v1h-8zM340 300h3v1h-3zM340 301h1v1h-1zM343 298h8v1h-8zM348 297h4v1h-4zM351 296h3v1h-3zM352 295h1v1h-1zM353 297h1v1h-1zM353 298h2v1h-2zM354 299h4v2h-4zM357 301h1v3h-1zM357 304h2v1h-2zM358 305h1v8h-1zM358 313h2v1h-2zM359 314h1v3h-1zM359 317h3v1h-3zM359 318h9v1h-9zM362 319h10v1h-10zM368 320h4v1h-4zM371 321h2v1h-2zM372 322h1v1h-1zM372 323h2v1h-2zM373 324h1v2h-1zM373 326h3v1h-3zM374 327h1v2h-1zM375 323h2v1h-2zM375 324h1v2h-1zM376 319h2v1h-2zM376 320h1v3h-1zM377 317h2v1h-2zM377 318h1v1h-1zM378 315h2v1h-2zM378 316h1v1h-1zM379 313h2v1h-2zM379 314h1v1h-1zM380 311h2v1h-2zM380 312h1v1h-1zM381 309h4v1h-4zM381 310h2v1h-2zM383 308h4v1h-4zM385 307h3v1h-3zM387 305h2v1h-2zM387 306h1v1h-1zM388 303h2v1h-2zM388 304h1v1h-1zM389 301h2v1h-2zM389 302h1v1h-1zM390 299h6v2h-6zM395 301h1v1h-1zM395 302h2v1h-2zM396 303h1v5h-1zM396 308h3v1h-3zM397 309h2v1h-2zM397 310h1v2h-1zM398 305h2v1h-2zM398 306h1v2h-1zM399 301h2v1h-2zM399 302h1v3h-1zM400 299h5v1h-5zM400 300h2v1h-2zM402 298h7v1h-7zM405 297h7v1h-7zM409 296h3v1h-3zM411 294h2v1h-2zM411 295h1v1h-1zM412 290h2v1h-2zM412 291h1v3h-1zM413 285h2v1h-2zM413 286h1v4h-1zM414 282h6v2h-6zM414 284h1v1h-1zM419 284h1v12h-1zM419 296h2v1h-2zM420 297h1v8h-1zM420 305h3v1h-3zM420 306h2v3h-2zM420 309h1v2h-1zM422 302h2v1h-2zM422 303h1v2h-1zM423 300h3v1h-3zM423 301h1v1h-1zM424 299h4v1h-4zM426 298h3v1h-3zM428 296h2v1h-2zM428 297h1v1h-1zM429 295h2v1h-2zM430 293h3v1h-3zM430 294h1v1h-1zM431 292h4v1h-4zM433 291h4v1h-4zM435 290h2v1h-2zM436 289h2v1h-2zM437 285h2v1h-2zM437 286h1v3h-1zM438 281h2v1h-2zM438 282h1v3h-1zM439 279h6v2h-6zM444 281h1v1h-1zM444 282h2v1h-2zM445 283h1v3h-1zM445 286h2v1h-2zM446 287h1v2h-1zM446 289h2v1h-2zM447 290h4v1h-4zM448 291h2v1h-2zM449 292h1v1h-1zM450 287h2v1h-2zM450 288h1v2h-1zM451 284h2v1h-2zM451 285h1v2h-1zM452 282h6v1h-6zM452 283h2v1h-2zM454 281h6v1h-6zM458 280h3v1h-3zM460 279h2v1h-2zM461 278h2v1h-2zM462 276h2v1h-2zM462 277h1v1h-1zM463 275h2v1h-2zM464 270h2v1h-2zM464 271h1v4h-1zM465 262h2v1h-2zM465 263h1v7h-1zM466 253h2v1h-2zM466 254h1v8h-1zM467 248h6v2h-6zM467 250h1v3h-1zM472 250h2v1h-2zM473 251h1v3h-1zM473 254h2v1h-2zM474 255h1v2h-1zM474 257h2v1h-2zM475 258h1v2h-1zM475 260h2v1h-2zM476 261h1v2h-1zM476 263h3v1h-3zM476 264h2v1h-2zM477 265h1v2h-1zM478 257h2v1h-2zM478 258h1v5h-1zM479 251h2v1h-2zM479 252h1v5h-1zM480 248h4v2h-4zM480 250h1v1h-1zM483 250h2v1h-2zM484 251h1v2h-1zM484 253h2v1h-2zM485 254h1v3h-1zM485 257h2v1h-2zM486 258h5v1h-5zM486 259h7v1h-7zM491 260h2v2h-2zM492 257h2v1h-2zM492 258h1v1h-1zM492 262h1v2h-1zM493 247h2v1h-2zM493 248h1v9h-1zM494 237h2v1h-2zM494 238h1v9h-1zM495 231h9v2h-9zM495 233h1v4h-1zM503 233h1v1h-1zM503 234h2v1h-2zM504 235h1v3h-1zM504 238h2v1h-2zM505 239h1v3h-1zM505 242h2v1h-2zM506 243h1v1h-1zM506 244h6v2h-6zM511 246h1v1h-1zM511 247h2v1h-2zM512 248h1v3h-1zM512 251h2v1h-2zM513 252h1v3h-1zM513 255h2v1h-2zM514 256h1v5h-1zM514 261h2v1h-2zM515 262h1v6h-1zM515 268h2v1h-2zM516 269h1v7h-1zM516 276h3v1h-3zM517 277h2v2h-2zM517 279h1v2h-1zM518 274h2v1h-2zM518 275h1v1h-1zM519 271h2v1h-2zM519 272h1v2h-1zM520 268h2v1h-2zM520 269h1v2h-1zM521 264h2v1h-2zM521 265h1v3h-1zM522 262h3v2h-3zM524 264h2v1h-2zM525 265h1v1h-1zM525 266h3v1h-3zM525 267h2v1h-2zM526 268h1v2h-1zM527 262h2v1h-2zM527 263h1v3h-1zM528 257h2v1h-2zM528 258h1v4h-1zM529 254h7v2h-7zM529 256h1v1h-1zM535 251h2v1h-2zM535 252h1v2h-1zM536 244h2v1h-2zM536 245h1v6h-1zM537 238h2v1h-2zM537 239h1v5h-1zM538 231h2v1h-2zM538 232h1v6h-1zM539 227h4v2h-4zM539 229h1v2h-1zM542 229h1v2h-1zM542 231h2v1h-2zM543 232h1v5h-1zM543 237h2v1h-2zM544 238h1v6h-1zM544 244h2v1h-2zM545 245h1v6h-1zM545 251h2v1h-2zM546 252h1v5h-1zM546 257h2v1h-2zM547 258h1v2h-1zM547 260h6v2h-6zM552 262h1v1h-1zM552 263h2v1h-2zM553 264h1v5h-1zM553 269h2v1h-2zM554 270h1v5h-1zM554 275h2v1h-2zM555 276h1v5h-1zM555 281h2v1h-2zM556 282h1v5h-1zM556 287h3v1h-3zM557 288h2v1h-2zM557 289h1v3h-1zM558 282h2v1h-2zM558 283h1v4h-1zM559 276h2v1h-2zM559 277h1v5h-1zM560 270h2v1h-2zM560 271h1v5h-1zM561 264h2v1h-2zM561 265h1v5h-1zM562 260h4v1h-4zM562 261h2v1h-2zM562 262h1v2h-1zM564 259h7v1h-7zM566 258h3v1h-3zM569 260h9v1h-9zM571 261h6v1h-6zM577 258h2v1h-2zM577 259h1v1h-1zM578 257h2v1h-2zM579 255h2v1h-2zM579 256h1v1h-1zM580 253h6v1h-6zM580 254h1v1h-1zM581 252h5v1h-5zM585 254h1v1h-1zM585 255h2v1h-2zM586 256h1v4h-1zM586 260h2v1h-2zM587 261h1v5h-1zM587 266h2v1h-2zM588 267h1v4h-1zM588 271h2v1h-2zM589 272h1v1h-1zM589 273h3v2h-3zM591 272h2v1h-2zM592 268h2v1h-2zM592 269h1v3h-1zM593 264h2v1h-2zM593 265h1v3h-1zM594 262h6v2h-6zM599 264h2v1h-2zM600 265h1v2h-1zM600 267h2v1h-2zM601 268h1v2h-1zM601 270h2v1h-2zM602 271h11v1h-11zM602 272h2v1h-2zM604 270h8v1h-8zM612 272h1v1h-1zM612 273h2v1h-2zM613 274h1v1h-1zM613 275h2v1h-2zM614 276h1v1h-1zM614 277h6v1h-6zM615 278h5v1h-5zM619 279h1v3h-1zM619 282h2v1h-2zM620 283h1v7h-1zM620 290h2v1h-2zM621 291h1v7h-1zM621 298h2v1h-2zM622 299h1v7h-1zM622 306h2v1h-2zM623 307h1v7h-1zM623 314h2v1h-2zM624 315h1v2h-1zM624 317h4v2h-4zM627 319h1v1h-1zM627 320h2v1h-2zM628 321h1v5h-1zM628 326h3v1h-3zM629 327h2v1h-2zM629 328h1v2h-1zM630 323h2v1h-2zM630 324h1v2h-1zM631 319h2v1h-2zM631 320h1v3h-1zM632 317h2v1h-2zM632 318h1v1h-1zM633 316h2v1h-2zM634 315h7v1h-7zM635 314h8v1h-8zM641 313h6v1h-6zM643 312h4v1h-4zM646 311h2v1h-2zM647 309h2v1h-2zM647 310h1v1h-1zM648 306h2v1h-2zM648 307h1v2h-1zM649 302h2v1h-2zM649 303h1v3h-1zM650 297h2v1h-2zM650 298h1v4h-1zM651 292h2v1h-2zM651 293h1v4h-1zM652 289h10v1h-10zM652 290h11v1h-11zM652 291h1v1h-1zM662 291h2v1h-2zM663 292h1v1h-1zM663 293h2v1h-2zM664 294h2v1h-2zM665 295h2v1h-2zM666 296h1v1h-1zM666 297h2v1h-2zM667 298h1v1h-1zM667 299h2v1h-2zM668 300h1v1h-1zM668 301h2v1h-2zM669 302h1v3h-1zM669 305h2v1h-2zM670 306h1v2h-1zM670 308h7v2h-7zM676 305h2v1h-2zM676 306h1v2h-1zM677 299h2v1h-2zM677 300h1v5h-1zM678 295h7v2h-7zM678 297h1v2h-1zM684 294h2v1h-2zM685 290h2v1h-2zM685 291h1v3h-1zM686 286h2v1h-2zM686 287h1v3h-1zM687 284h5v2h-5zM691 286h2v1h-2zM692 287h1v3h-1zM692 290h2v1h-2zM693 291h1v3h-1zM693 294h3v1h-3zM694 295h2v1h-2zM694 296h1v1h-1zM695 293h2v1h-2zM696 291h2v1h-2zM696 292h1v1h-1zM697 289h8v1h-8zM697 290h9v1h-9zM705 291h13v1h-13zM706 292h13v1h-13zM718 293h3v1h-3zM719 294h3v1h-3zM721 295h2v1h-2zM722 296h1v1h-1zM722 297h2v1h-2zM723 298h1v1h-1zM723 299h2v1h-2zM724 300h1v1h-1zM724 301h2v1h-2zM725 302h1v5h-1zM725 307h2v1h-2zM726 308h1v9h-1zM726 317h2v1h-2zM727 318h1v2h-1zM727 320h3v1h-3zM727 321h2v2h-2zM727 323h1v1h-1zM729 318h9v2h-9zM737 320h2v1h-2zM738 321h1v1h-1zM738 322h2v1h-2zM739 323h1v1h-1zM739 324h2v1h-2zM740 325h1v1h-1zM740 326h2v1h-2zM741 327h1v1h-1zM741 328h2v1h-2zM742 329h1v1h-1zM742 330h2v1h-2zM743 331h2v1h-2zM744 332h1v1h-1zM744 333h11v1h-11zM745 334h3v1h-3zM748 332h7v1h-7zM754 334h2v1h-2zM755 335h1v1h-1zM755 336h3v1h-3zM756 337h2v1h-2zM756 338h1v1h-1zM757 335h2v1h-2zM758 333h2v1h-2zM758 334h1v1h-1zM759 331h2v1h-2zM759 332h1v1h-1zM760 329h2v1h-2zM760 330h1v1h-1zM761 328h2v1h-2zM762 326h2v1h-2zM762 327h1v1h-1zM763 323h2v1h-2zM763 324h1v2h-1zM764 321h2v1h-2zM764 322h1v1h-1zM765 318h2v1h-2zM765 319h1v2h-1zM766 316h4v2h-4zM769 318h1v1h-1zM769 319h2v1h-2zM770 320h1v5h-1zM770 325h2v1h-2zM771 326h1v2h-1zM771 328h2v1h-2zM772 329h2v1h-2zM773 330h2v1h-2zM774 331h1v1h-1zM774 332h2v1h-2zM775 333h7v1h-7zM776 334h5v1h-5zM781 331h2v1h-2zM781 332h1v1h-1zM782 328h2v1h-2zM782 329h1v2h-1zM783 324h2v1h-2zM783 325h1v3h-1zM784 320h2v1h-2zM784 321h1v3h-1zM785 317h8v1h-8zM785 318h6v1h-6zM785 319h1v1h-1zM791 316h5v1h-5zM793 315h3v1h-3zM795 317h2v1h-2zM796 318h1v2h-1zM796 320h2v1h-2zM797 321h1v3h-1zM797 324h2v1h-2zM798 325h1v1h-1zM798 326h3v1h-3zM798 327h2v1h-2zM799 328h1v2h-1zM800 321h2v1h-2zM800 322h1v4h-1zM801 315h2v1h-2zM801 316h1v5h-1zM802 312h4v2h-4zM802 314h1v1h-1z"/>
<g shape-rendering="crispEdges">
<rect x="71" y="366" width="735" height="1" fill="#ffff00"/>
<rect x="70" y="365" width="736" height="1" fill="#000000"/>
<rect x="85" y="367" width="1" height="1" fill="#000000"/>
<rect x="100" y="367" width="1" height="1" fill="#000000"/>
<rect x="116" y="367" width="1" height="1" fill="#000000"/>
<rect x="131" y="367" width="1" height="1" fill="#000000"/>
<rect x="147" y="367" width="1" height="1" fill="#000000"/>
<rect x="162" y="367" width="1" height="1" fill="#000000"/>
<rect x="178" y="367" width="1" height="1" fill="#000000"/>
<rect x="193" y="367" width="1" height="1" fill="#000000"/>
<rect x="209" y="367" width="1" height="1" fill="#000000"/>
<rect x="224" y="367" width="1" height="1" fill="#000000"/>
<rect x="240" y="367" width="1" height="1" fill="#000000"/>
<rect x="255" y="367" width="1" height="1" fill="#000000"/>
<rect x="271" y="367" width="1" height="1" fill="#000000"/>
<rect x="286" y="367" width="1" height="1" fill="#000000"/>
<rect x="302" y="367" width="1" height="1" fill="#000000"/>
<rect x="317" y="367" width="1" height="1" fill="#000000"/>
<rect x="333" y="367" width="1" height="1" fill="#000000"/>
<rect x="348" y="367" width="1" height="1" fill="#000000"/>
<rect x="364" y="367" width="1" height="1" fill="#000000"/>
<rect x="379" y="367" width="1" height="1" fill="#000000"/>
<rect x="394" y="367" width="1" height="1" fill="#000000"/>
<rect x="410" y="367" width="1" height="1" fill="#000000"/>
<rect x="425" y="367" width="1" height="1" fill="#000000"/>
<rect x="441" y="367" width="1" height="1" fill="#000000"/>
<rect x="456" y="367" width="1" height="1" fill="#000000"/>
<rect x="472" y="367" width="1" height="1" fill="#000000"/>
<rect x="487" y="367" width="1" height="1" fill="#000000"/>
<rect x="503" y="367" width="1" height="1" fill="#000000"/>
<rect x="518" y="367" width="1" height="1" fill="#000000"/>
<rect x="534" y="367" width="1" height="1" fill="#000000"/>
<rect x="549" y="367" width="1" height="1" fill="#000000"/>
<rect x="565" y="367" width="1" height="1" fill="#000000"/>
<rect x="580" y="367" width="1" height="1" fill="#000000"/>
<rect x="596" y="367" width="1" height="1" fill="#000000"/>
<rect x="611" y="367" width="1" height="1" fill="#000000"/>
<rect x="627" y="367" width="1" height="1" fill="#000000"/>
<rect x="642" y="367" width="1" height="1" fill="#000000"/>
<rect x="658" y="367" width="1" height="1" fill="#000000"/>
<rect x="673" y="367" width="1" height="1" fill="#000000"/>
<rect x="688" y="367" width="1" height="1" fill="#000000"/>
<rect x="704" y="367" width="1" height="1" fill="#000000"/>
<rect x="719" y="367" width="1" height="1" fill="#000000"/>
<rect x="735" y="367" width="1" height="1" fill="#000000"/>
<rect x="750" y="367" width="1" height="1" fill="#000000"/>
<rect x="766" y="367" width="1" height="1" fill="#000000"/>
<rect x="781" y="367" width="1" height="1" fill="#000000"/>
<rect x="797" y="367" width="1" height="1" fill="#000000"/>
</g>
<circle cx="284.5" cy="360.5" r="4.5" fill="#000"/><circle cx="284.5" cy="360.5" r="3.5" fill="#ffff00"/>
<circle cx="570.5" cy="360.5" r="4.5" fill="#000"/><circle cx="570.5" cy="360.5" r="3.5" fill="#ffff00"/>
<g shape-rendering="crispEdges">
<g fill="#228b22"><use href="#g39" x="3" y="361"/><use href="#g38" x="8" y="361"/><use href="#g39" x="13" y="361"/></g>
<g fill="#228b22"><use href="#g39" x="3" y="332"/><use href="#g39" x="8" y="332"/><use href="#g31" x="13" y="332"/></g>
<g fill="#228b22"><use href="#g39" x="3" y="304"/><use href="#g39" x="8" y="304"/><use href="#g33" x="13" y="304"/></g>
<g fill="#228b22"><use href="#g39" x="3" y="276"/><use href="#g39" x="8" y="276"/><use href="#g35" x="13" y="276"/></g>
<g fill="#228b22"><use href="#g39" x="3" y="248"/><use href="#g39" x="8" y="248"/><use href="#g37" x="13" y="248"/></g>
<g fill="#228b22"><use href="#g39" x="3" y="220"/><use href="#g39" x="8" y="220"/><use href="#g39" x="13" y="220"/></g>
<g fill="#228b22"><use href="#g31" x="3" y="191"/><use href="#g30" x="8" y="191"/><use href="#g30" x="13" y="191"/><use href="#g31" x="18" y="191"/></g>
<g fill="#228b22"><use href="#g31" x="3" y="163"/><use href="#g30" x="8" y="163"/><use href="#g30" x="13" y="163"/><use href="#g33" x="18" y="163"/></g>
<g fill="#228b22"><use href="#g31" x="3" y="135"/><use href="#g30" x="8" y="135"/><use href="#g30" x="13" y="135"/><use href="#g35" x="18" y="135"/></g>
<g fill="#228b22"><use href="#g31" x="3" y="107"/><use href="#g30" x="8" y="107"/><use href="#g30" x="13" y="107"/><use href="#g37" x="18" y="107"/></g>
<g fill="#228b22"><use href="#g31" x="3" y="79"/><use href="#g30" x="8" y="79"/><use href="#g30" x="13" y="79"/><use href="#g39" x="18" y="79"/></g>
<g fill="#228b22"><use href="#g31" x="3" y="51"/><use href="#g30" x="8" y="51"/><use href="#g31" x="13" y="51"/><use href="#g31" x="18" y="51"/></g>
<g fill="#8c00d0"><use href="#g30" x="40" y="361"/></g>
<g fill="#8c00d0"><use href="#g31" x="35" y="330"/><use href="#g30" x="40" y="330"/></g>
<g fill="#8c00d0"><use href="#g32" x="35" y="299"/><use href="#g30" x="40" y="299"/></g>
<g fill="#8c00d0"><use href="#g33" x="35" y="268"/><use href="#g30" x="40" y="268"/></g>
<g fill="#8c00d0"><use href="#g34" x="35" y="237"/><use href="#g30" x="40" y="237"/></g>
<g fill="#8c00d0"><use href="#g35" x="35" y="206"/><use href="#g30" x="40" y="206"/></g>
<g fill="#8c00d0"><use href="#g36" x="35" y="175"/><use href="#g30" x="40" y="175"/></g>
<g fill="#8c00d0"><use href="#g37" x="35" y="144"/><use href="#g30" x="40" y="144"/></g>
<g fill="#8c00d0"><use href="#g38" x="35" y="113"/><use href="#g30" x="40" y="113"/></g>
<g fill="#8c00d0"><use href="#g39" x="35" y="82"/><use href="#g30" x="40" y="82"/></g>
<g fill="#8c00d0"><use href="#g31" x="30" y="51"/><use href="#g30" x="35" y="51"/><use href="#g30" x="40" y="51"/></g>
<g fill="#ff0000"><use href="#g2d" x="57" y="361"/><use href="#g34" x="62" y="361"/></g>
<g fill="#ff0000"><use href="#g2d" x="57" y="331"/><use href="#g32" x="62" y="331"/></g>
<g fill="#ff0000"><use href="#g30" x="62" y="301"/></g>
<g fill="#ff0000"><use href="#g32" x="62" y="272"/></g>
<g fill="#ff0000"><use href="#g34" x="62" y="242"/></g>
<g fill="#ff0000"><use href="#g36" x="62" y="213"/></g>
<g fill="#ff0000"><use href="#g38" x="62" y="183"/></g>
<g fill="#ff0000"><use href="#g31" x="57" y="154"/><use href="#g30" x="62" y="154"/></g>
<g fill="#ff0000"><use href="#g31" x="57" y="124"/><use href="#g32" x="62" y="124"/></g>
<g fill="#ff0000"><use href="#g31" x="57" y="95"/><use href="#g34" x="62" y="95"/></g>
<g fill="#ff0000"><use href="#g31" x="57" y="65"/><use href="#g36" x="62" y="65"/></g>
<g fill="#228b22"><use href="#g68" x="6" y="40"/><use href="#g50" x="11" y="40"/><use href="#g61" x="16" y="40"/></g>
<g fill="#8c00d0"><use href="#g25" x="40" y="40"/></g>
<g fill="#ff0000"><use href="#gb0" x="57" y="40"/><use href="#g43" x="62" y="40"/></g>
<g fill="#696969"><use href="#g34" x="808" y="322"/><use href="#g35" x="813" y="322"/></g>
<g fill="#696969"><use href="#g4e" x="808" y="330"/><use href="#g45" x="813" y="330"/></g>
<g fill="#696969"><use href="#g39" x="808" y="283"/><use href="#g30" x="813" y="283"/></g>
<g fill="#696969"><use href="#g45" x="813" y="291"/></g>
<g fill="#696969"><use href="#g31" x="808" y="244"/><use href="#g33" x="813" y="244"/><use href="#g35" x="818" y="244"/></g>
<g fill="#696969"><use href="#g53" x="808" y="252"/><use href="#g45" x="813" y="252"/></g>
<g fill="#696969"><use href="#g31" x="808" y="206"/><use href="#g38" x="813" y="206"/><use href="#g30" x="818" y="206"/></g>
<g fill="#696969"><use href="#g53" x="813" y="214"/></g>
<g fill="#696969"><use href="#g32" x="808" y="167"/><use href="#g32" x="813" y="167"/><use href="#g35" x="818" y="167"/></g>
<g fill="#696969"><use href="#g53" x="808" y="175"/><use href="#g57" x="813" y="175"/></g>
<g fill="#696969"><use href="#g32" x="808" y="128"/><use href="#g37" x="813" y="128"/><use href="#g30" x="818" y="128"/></g>
<g fill="#696969"><use href="#g57" x="813" y="136"/></g>
<g fill="#696969"><use href="#g33" x="808" y="89"/><use href="#g31" x="813" y="89"/><use href="#g35" x="818" y="89"/></g>
<g fill="#696969"><use href="#g4e" x="808" y="97"/><use href="#g57" x="813" y="97"/></g>
<g fill="#696969"><use href="#g33" x="808" y="51"/><use href="#g36" x="813" y="51"/><use href="#g30" x="818" y="51"/></g>
<g fill="#696969"><use href="#g4e" x="813" y="59"/></g>
<g fill="#696969"><use href="#gb0" x="808" y="40"/></g>
<g fill="#000000"><use href="#g30" x="828" y="361"/></g>
<g fill="#000000"><use href="#g31" x="828" y="341"/></g>
<g fill="#000000"><use href="#g32" x="828" y="322"/></g>
<g fill="#000000"><use href="#g33" x="828" y="302"/></g>
<g fill="#000000"><use href="#g34" x="828" y="283"/></g>
<g fill="#000000"><use href="#g35" x="828" y="264"/></g>
<g fill="#000000"><use href="#g36" x="828" y="244"/></g>
<g fill="#000000"><use href="#g37" x="828" y="225"/></g>
<g fill="#000000"><use href="#g38" x="828" y="206"/></g>
<g fill="#000000"><use href="#g39" x="828" y="186"/></g>
<g fill="#000000"><use href="#g31" x="828" y="167"/><use href="#g30" x="833" y="167"/></g>
<g fill="#000000"><use href="#g31" x="828" y="147"/><use href="#g31" x="833" y="147"/></g>
<g fill="#000000"><use href="#g31" x="828" y="128"/><use href="#g32" x="833" y="128"/></g>
<g fill="#000000"><use href="#g31" x="828" y="109"/><use href="#g33" x="833" y="109"/></g>
<g fill="#000000"><use href="#g31" x="828" y="89"/><use href="#g34" x="833" y="89"/></g>
<g fill="#000000"><use href="#g31" x="828" y="70"/><use href="#g35" x="833" y="70"/></g>
<g fill="#000000"><use href="#g31" x="828" y="51"/><use href="#g36" x="833" y="51"/></g>
<g fill="#000000"><use href="#g6d" x="828" y="40"/><use href="#g2f" x="833" y="40"/><use href="#g73" x="838" y="40"/></g>
<g fill="#00bfff"><use href="#g30" x="848" y="361"/></g>
<g fill="#00bfff"><use href="#g31" x="848" y="283"/></g>
<g fill="#00bfff"><use href="#g32" x="848" y="206"/></g>
<g fill="#00bfff"><use href="#g33" x="848" y="128"/></g>
<g fill="#00bfff"><use href="#g34" x="848" y="51"/></g>
<g fill="#00bfff"><use href="#g6d" x="848" y="40"/><use href="#g6d" x="853" y="40"/></g>
<g fill="#ffff00"><use href="#g30" x="863" y="361"/></g>
<g fill="#ffff00"><use href="#g31" x="863" y="299"/></g>
<g fill="#ffff00"><use href="#g32" x="863" y="237"/></g>
<g fill="#ffff00"><use href="#g33" x="863" y="175"/></g>
<g fill="#ffff00"><use href="#g34" x="863" y="113"/></g>
<g fill="#ffff00"><use href="#g35" x="863" y="51"/></g>
<g fill="#ff8000"><use href="#g30" x="878" y="361"/></g>
<g fill="#ff8000"><use href="#g31" x="878" y="345"/><use href="#g35" x="883" y="345"/><use href="#g30" x="888" y="345"/></g>
<g fill="#ff8000"><use href="#g33" x="878" y="330"/><use href="#g30" x="883" y="330"/><use href="#g30" x="888" y="330"/></g>
<g fill="#ff8000"><use href="#g34" x="878" y="314"/><use href="#g35" x="883" y="314"/><use href="#g30" x="888" y="314"/></g>
<g fill="#ff8000"><use href="#g36" x="878" y="299"/><use href="#g30" x="883" y="299"/><use href="#g30" x="888" y="299"/></g>
<g fill="#ff8000"><use href="#g37" x="878" y="283"/><use href="#g35" x="883" y="283"/><use href="#g30" x="888" y="283"/></g>
<g fill="#ff8000"><use href="#g39" x="878" y="268"/><use href="#g30" x="883" y="268"/><use href="#g30" x="888" y="268"/></g>
<g fill="#ff8000"><use href="#g31" x="878" y="252"/><use href="#g30" x="883" y="252"/><use href="#g35" x="888" y="252"/><use href="#g30" x="893" y="252"/></g>
<g fill="#ff8000"><use href="#g31" x="878" y="237"/><use href="#g32" x="883" y="237"/><use href="#g30" x="888" y="237"/><use href="#g30" x="893" y="237"/></g>
<g fill="#ff8000"><use href="#g31" x="878" y="221"/><use href="#g33" x="883" y="221"/><use href="#g35" x="888" y="221"/><use href="#g30" x="893" y="221"/></g>
<g fill="#ff8000"><use href="#g31" x="878" y="206"/><use href="#g35" x="883" y="206"/><use href="#g30" x="888" y="206"/><use href="#g30" x="893" y="206"/></g>
<g fill="#ff8000"><use href="#g57" x="878" y="40"/></g>
<g fill="#000000"><use href="#g10c" x="815" y="370"/><use href="#g61" x="820" y="370"/><use href="#g73" x="825" y="370"/></g>
<g fill="#000" transform="translate(66,397) rotate(-90)"><use href="#g30" x="0" y="0"/><use href="#g30" x="5" y="0"/><use href="#g3a" x="10" y="0"/><use href="#g30" x="15" y="0"/><use href="#g30" x="20" y="0"/></g>
<g fill="#000" transform="translate(81,397) rotate(-90)"><use href="#g30" x="0" y="0"/><use href="#g30" x="5" y="0"/><use href="#g3a" x="10" y="0"/><use href="#g33" x="15" y="0"/><use href="#g30" x="20" y="0"/></g>
<g fill="#000" transform="translate(96,397) rotate(-90)"><use href="#g30" x="0" y="0"/><use href="#g31" x="5" y="0"/><use href="#g3a" x="10" y="0"/><use href="#g30" x="15" y="0"/><use href="#g30" x="20" y="0"/></g>
<g fill="#000" transform="translate(112,397) rotate(-90)"><use href="#g30" x="0" y="0"/><use href="#g31" x="5" y="0"/><use href="#g3a" x="10" y="0"/><use href="#g33" x="15" y="0"/><use href="#g30" x="20" y="0"/></g>
<g fill="#000" transform="translate(127,397) rotate(-90)"><use href="#g30" x="0" y="0"/><use href="#g32" x="5" y="0"/><use href="#g3a" x="10" y="0"/><use href="#g30" x="15" y="0"/><use href="#g30" x="20" y="0"/></g>
<g fill="#000" transform="translate(143,397) rotate(-90)"><use href="#g30" x="0" y="0"/><use href="#g32" x="5" y="0"/><use href="#g3a" x="10" y="0"/><use href="#g33" x="15" y="0"/><use href="#g30" x="20" y="0"/></g>
<g fill="#000" transform="translate(158,397) rotate(-90)"><use href="#g30" x="0" y="0"/><use href="#g33" x="5" y="0"/><use href="#g3a" x="10" y="0"/><use href="#g30" x="15" y="0"/><use href="#g30" x="20" y="0"/></g>
<g fill="#000" transform="translate(174,397) rotate(-90)"><use href="#g30" x="0" y="0"/><use href="#g33" x="5" y="0"/><use href="#g3a" x="10" y="0"/><use href="#g33" x="15" y="0"/><use href="#g35" x="20" y="0"/></g>
<g fill="#000" transform="translate(189,397) rotate(-90)"><use href="#g30" x="0" y="0"/><use href="#g34" x="5" y="0"/><use href="#g3a" x="10" y="0"/><use href="#g30" x="15" y="0"/><use href="#g35" x="20" y="0"/></g>
<g fill="#000" transform="translate(205,397) rotate(-90)"><use href="#g30" x="0" y="0"/><use href="#g34" x="5" y="0"/><use href="#g3a" x="10" y="0"/><use href="#g33" x="15" y="0"/><use href="#g35" x="20" y="0"/></g>
<g fill="#000" transform="translate(220,397) rotate(-90)"><use href="#g30" x="0" y="0"/><use href="#g35" x="5" y="0"/><use href="#g3a" x="10" y="0"/><use href="#g30" x="15" y="0"/><use href="#g35" x="20" y="0"/></g>
<g fill="#000" transform="translate(236,397) rotate(-90)"><use href="#g30" x="0" y="0"/><use href="#g35" x="5" y="0"/><use href="#g3a" x="10" y="0"/><use href="#g33" x="15" y="0"/><use href="#g35" x="20" y="0"/></g>
<g fill="#000" transform="translate(251,397) rotate(-90)"><use href="#g30" x="0" y="0"/><use href="#g36" x="5" y="0"/><use href="#g3a" x="10" y="0"/><use href="#g30" x="15" y="0"/><use href="#g35" x="20" y="0"/></g>
<g fill="#000" transform="translate(267,397) rotate(-90)"><use href="#g30" x="0" y="0"/><use href="#g36" x="5" y="0"/><use href="#g3a" x="10" y="0"/><use href="#g33" x="15" y="0"/><use href="#g35" x="20" y="0"/></g>
<g fill="#000" transform="translate(282,397) rotate(-90)"><use href="#g30" x="0" y="0"/><use href="#g37" x="5" y="0"/><use href="#g3a" x="10" y="0"/><use href="#g30" x="15" y="0"/><use href="#g35" x="20" y="0"/></g>
<g fill="#000" transform="translate(298,397) rotate(-90)"><use href="#g30" x="0" y="0"/><use href="#g37" x="5" y="0"/><use href="#g3a" x="10" y="0"/><use href="#g33" x="15" y="0"/><use href="#g35" x="20" y="0"/></g>
<g fill="#000" transform="translate(313,397) rotate(-90)"><use href="#g30" x="0" y="0"/><use href="#g38" x="5" y="0"/><use href="#g3a" x="10" y="0"/><use href="#g30" x="15" y="0"/><use href="#g35" x="20" y="0"/></g>
<g fill="#000" transform="translate(329,397) rotate(-90)"><use href="#g30" x="0" y="0"/><use href="#g38" x="5" y="0"/><use href="#g3a" x="10" y="0"/><use href="#g33" x="15" y="0"/><use href="#g35" x="20" y="0"/></g>
<g fill="#000" transform="translate(344,397) rotate(-90)"><use href="#g30" x="0" y="0"/><use href="#g39" x="5" y="0"/><use href="#g3a" x="10" y="0"/><use href="#g30" x="15" y="0"/><use href="#g35" x="20" y="0"/></g>
<g fill="#000" transform="translate(360,397) rotate(-90)"><use href="#g30" x="0" y="0"/><use href="#g39" x="5" y="0"/><use href="#g3a" x="10" y="0"/><use href="#g33" x="15" y="0"/><use href="#g35" x="20" y="0"/></g>
<g fill="#000" transform="translate(375,397) rotate(-90)"><use href="#g31" x="0" y="0"/><use href="#g30" x="5" y="0"/><use href="#g3a" x="10" y="0"/><use href="#g30" x="15" y="0"/><use href="#g35" x="20" y="0"/></g>
<g fill="#000" transform="translate(390,397) rotate(-90)"><use href="#g31" x="0" y="0"/><use href="#g30" x="5" y="0"/><use href="#g3a" x="10" y="0"/><use href="#g33" x="15" y="0"/><use href="#g35" x="20" y="0"/></g>
<g fill="#000" transform="translate(406,397) rotate(-90)"><use href="#g31" x="0" y="0"/><use href="#g31" x="5" y="0"/><use href="#g3a" x="10" y="0"/><use href="#g30" x="15" y="0"/><use href="#g35" x="20" y="0"/></g>
<g fill="#000" transform="translate(421,397) rotate(-90)"><use href="#g31" x="0" y="0"/><use href="#g31" x="5" y="0"/><use href="#g3a" x="10" y="0"/><use href="#g33" x="15" y="0"/><use href="#g35" x="20" y="0"/></g>
<g fill="#000" transform="translate(437,397) rotate(-90)"><use href="#g31" x="0" y="0"/><use href="#g32" x="5" y="0"/><use href="#g3a" x="10" y="0"/><use href="#g30" x="15" y="0"/><use href="#g35" x="20" y="0"/></g>
<g fill="#000" transform="translate(452,397) rotate(-90)"><use href="#g31" x="0" y="0"/><use href="#g32" x="5" y="0"/><use href="#g3a" x="10" y="0"/><use href="#g33" x="15" y="0"/><use href="#g35" x="20" y="0"/></g>
<g fill="#000" transform="translate(468,397) rotate(-90)"><use href="#g31" x="0" y="0"/><use href="#g33" x="5" y="0"/><use href="#g3a" x="10" y="0"/><use href="#g30" x="15" y="0"/><use href="#g35" x="20" y="0"/></g>
<g fill="#000" transform="translate(483,397) rotate(-90)"><use href="#g31" x="0" y="0"/><use href="#g33" x="5" y="0"/><use href="#g3a" x="10" y="0"/><use href="#g33" x="15" y="0"/><use href="#g35" x="20" y="0"/></g>
<g fill="#000" transform="translate(499,397) rotate(-90)"><use href="#g31" x="0" y="0"/><use href="#g34" x="5" y="0"/><use href="#g3a" x="10" y="0"/><use href="#g30" x="15" y="0"/><use href="#g35" x="20" y="0"/></g>
<g fill="#000" transform="translate(514,397) rotate(-90)"><use href="#g31" x="0" y="0"/><use href="#g34" x="5" y="0"/><use href="#g3a" x="10" y="0"/><use href="#g33" x="15" y="0"/><use href="#g35" x="20" y="0"/></g>
<g fill="#000" transform="translate(530,397) rotate(-90)"><use href="#g31" x="0" y="0"/><use href="#g35" x="5" y="0"/><use href="#g3a" x="10" y="0"/><use href="#g30" x="15" y="0"/><use href="#g35" x="20" y="0"/></g>
<g fill="#000" transform="translate(545,397) rotate(-90)"><use href="#g31" x="0" y="0"/><use href="#g35" x="5" y="0"/><use href="#g3a" x="10" y="0"/><use href="#g33" x="15" y="0"/><use href="#g35" x="20" y="0"/></g>
<g fill="#000" transform="translate(561,397) rotate(-90)"><use href="#g31" x="0" y="0"/><use href="#g36" x="5" y="0"/><use href="#g3a" x="10" y="0"/><use href="#g30" x="15" y="0"/><use href="#g35" x="20" y="0"/></g>
<g fill="#000" transform="translate(576,397) rotate(-90)"><use href="#g31" x="0" y="0"/><use href="#g36" x="5" y="0"/><use href="#g3a" x="10" y="0"/><use href="#g33" x="15" y="0"/><use href="#g35" x="20" y="0"/></g>
<g fill="#000" transform="translate(592,397) rotate(-90)"><use href="#g31" x="0" y="0"/><use href="#g37" x="5" y="0"/><use href="#g3a" x="10" y="0"/><use href="#g30" x="15" y="0"/><use href="#g35" x="20" y="0"/></g>
<g fill="#000" transform="translate(607,397) rotate(-90)"><use href="#g31" x="0" y="0"/><use href="#g37" x="5" y="0"/><use href="#g3a" x="10" y="0"/><use href="#g33" x="15" y="0"/><use href="#g35" x="20" y="0"/></g>
<g fill="#000" transform="translate(623,397) rotate(-90)"><use href="#g31" x="0" y="0"/><use href="#g38" x="5" y="0"/><use href="#g3a" x="10" y="0"/><use href="#g30" x="15" y="0"/><use href="#g35" x="20" y="0"/></g>
<g fill="#000" transform="translate(638,397) rotate(-90)"><use href="#g31" x="0" y="0"/><use href="#g38" x="5" y="0"/><use href="#g3a" x="10" y="0"/><use href="#g33" x="15" y="0"/><use href="#g35" x="20" y="0"/></g>
<g fill="#000" transform="translate(654,397) rotate(-90)"><use href="#g31" x="0" y="0"/><use href="#g39" x="5" y="0"/><use href="#g3a" x="10" y="0"/><use href="#g30" x="15" y="0"/><use href="#g35" x="20" y="0"/></g>
<g fill="#000" transform="translate(669,397) rotate(-90)"><use href="#g31" x="0" y="0"/><use href="#g39" x="5" y="0"/><use href="#g3a" x="10" y="0"/><use href="#g33" x="15" y="0"/><use href="#g35" x="20" y="0"/></g>
<g fill="#000" transform="translate(684,397) rotate(-90)"><use href="#g32" x="0" y="0"/><use href="#g30" x="5" y="0"/><use href="#g3a" x="10" y="0"/><use href="#g31" x="15" y="0"/><use href="#g30" x="20" y="0"/></g>
<g fill="#000" transform="translate(700,397) rotate(-90)"><use href="#g32" x="0" y="0"/><use href="#g30" x="5" y="0"/><use href="#g3a" x="10" y="0"/><use href="#g34" x="15" y="0"/><use href="#g30" x="20" y="0"/></g>
<g fill="#000" transform="translate(715,397) rotate(-90)"><use href="#g32" x="0" y="0"/><use href="#g31" x="5" y="0"/><use href="#g3a" x="10" y="0"/><use href="#g31" x="15" y="0"/><use href="#g30" x="20" y="0"/></g>
<g fill="#000" transform="translate(731,397) rotate(-90)"><use href="#g32" x="0" y="0"/><use href="#g31" x="5" y="0"/><use href="#g3a" x="10" y="0"/><use href="#g34" x="15" y="0"/><use href="#g30" x="20" y="0"/></g>
<g fill="#000" transform="translate(746,397) rotate(-90)"><use href="#g32" x="0" y="0"/><use href="#g32" x="5" y="0"/><use href="#g3a" x="10" y="0"/><use href="#g31" x="15" y="0"/><use href="#g30" x="20" y="0"/></g>
<g fill="#000" transform="translate(762,397) rotate(-90)"><use href="#g32" x="0" y="0"/><use href="#g32" x="5" y="0"/><use href="#g3a" x="10" y="0"/><use href="#g34" x="15" y="0"/><use href="#g30" x="20" y="0"/></g>
<g fill="#000" transform="translate(777,397) rotate(-90)"><use href="#g32" x="0" y="0"/><use href="#g33" x="5" y="0"/><use href="#g3a" x="10" y="0"/><use href="#g31" x="15" y="0"/><use href="#g30" x="20" y="0"/></g>
<g fill="#000" transform="translate(793,397) rotate(-90)"><use href="#g32" x="0" y="0"/><use href="#g33" x="5" y="0"/><use href="#g3a" x="10" y="0"/><use href="#g34" x="15" y="0"/><use href="#g30" x="20" y="0"/></g>
<rect x="10" y="9" width="11" height="2" fill="#ff0000"/>
<g fill="#000"><use href="#g54" x="25" y="5"/><use href="#g65" x="30" y="5"/><use href="#g70" x="35" y="5"/><use href="#g6c" x="40" y="5"/><use href="#g6f" x="45" y="5"/><use href="#g74" x="50" y="5"/><use href="#g61" x="55" y="5"/></g>
<rect x="70" y="9" width="11" height="2" fill="#ff00ff"/>
<g fill="#000"><use href="#g50" x="85" y="5"/><use href="#g159" x="90" y="5"/><use href="#ged" x="95" y="5"/><use href="#g7a" x="100" y="5"/><use href="#g65" x="105" y="5"/><use href="#g6d" x="110" y="5"/><use href="#g6e" x="115" y="5"/><use href="#ged" x="120" y="5"/><use href="#g74" x="130" y="5"/><use href="#g65" x="135" y="5"/><use href="#g70" x="140" y="5"/><use href="#g6c" x="145" y="5"/><use href="#g6f" x="150" y="5"/><use href="#g74" x="155" y="5"/><use href="#g61" x="160" y="5"/></g>
<rect x="175" y="9" width="11" height="2" fill="#8c00d0"/>
<g fill="#000"><use href="#g56" x="190" y="5"/><use href="#g6c" x="195" y="5"/><use href="#g68" x="200" y="5"/><use href="#g6b" x="205" y="5"/><use href="#g6f" x="210" y="5"/><use href="#g73" x="215" y="5"/><use href="#g74" x="220" y="5"/></g>
<rect x="235" y="9" width="11" height="2" fill="#228b22"/>
<g fill="#000"><use href="#g54" x="250" y="5"/><use href="#g6c" x="255" y="5"/><use href="#g61" x="260" y="5"/><use href="#g6b" x="265" y="5"/></g>
<rect x="280" y="9" width="11" height="2" fill="#00bfff"/>
<g fill="#000"><use href="#g53" x="295" y="5"/><use href="#g72" x="300" y="5"/><use href="#ge1" x="305" y="5"/><use href="#g17e" x="310" y="5"/><use href="#g6b" x="315" y="5"/><use href="#g79" x="320" y="5"/></g>
<rect x="335" y="9" width="11" height="2" fill="#000000"/>
<g fill="#000"><use href="#g52" x="350" y="5"/><use href="#g79" x="355" y="5"/><use href="#g63" x="360" y="5"/><use href="#g68" x="365" y="5"/><use href="#g6c" x="370" y="5"/><use href="#g6f" x="375" y="5"/><use href="#g73" x="380" y="5"/><use href="#g74" x="385" y="5"/><use href="#g76" x="395" y="5"/><use href="#g11b" x="400" y="5"/><use href="#g74" x="405" y="5"/><use href="#g72" x="410" y="5"/><use href="#g75" x="415" y="5"/></g>
<rect x="430" y="9" width="11" height="2" fill="#0000cd"/>
<g fill="#000"><use href="#g4e" x="445" y="5"/><use href="#ge1" x="450" y="5"/><use href="#g72" x="455" y="5"/><use href="#g61" x="460" y="5"/><use href="#g7a" x="465" y="5"/><use href="#g76" x="475" y="5"/><use href="#g11b" x="480" y="5"/><use href="#g74" x="485" y="5"/><use href="#g72" x="490" y="5"/><use href="#g75" x="495" y="5"/></g>
<rect x="510" y="9" width="11" height="2" fill="#696969"/>
<g fill="#000"><use href="#g53" x="525" y="5"/><use href="#g6d" x="530" y="5"/><use href="#g11b" x="535" y="5"/><use href="#g72" x="540" y="5"/><use href="#g76" x="550" y="5"/><use href="#g11b" x="555" y="5"/><use href="#g74" x="560" y="5"/><use href="#g72" x="565" y="5"/><use href="#g75" x="570" y="5"/></g>
<rect x="585" y="9" width="11" height="2" fill="#ffff00"/>
<g fill="#ffff00"><use href="#g55" x="600" y="5"/><use href="#g56" x="605" y="5"/><use href="#g69" x="615" y="5"/><use href="#g6e" x="620" y="5"/><use href="#g64" x="625" y="5"/><use href="#g65" x="630" y="5"/><use href="#g78" x="635" y="5"/></g>
<rect x="650" y="9" width="11" height="2" fill="#ff8000"/>
<g fill="#ff8000"><use href="#g53" x="665" y="5"/><use href="#g6f" x="670" y="5"/><use href="#g6c" x="675" y="5"/><use href="#g61" x="680" y="5"/><use href="#g72" x="685" y="5"/></g>
<g fill="#000"><use href="#g6d" x="80" y="20"/><use href="#g61" x="85" y="20"/><use href="#g78" x="90" y="20"/></g>
<g fill="#ff0000"><use href="#g31" x="100" y="20"/><use href="#g32" x="105" y="20"/><use href="#g2e" x="110" y="20"/><use href="#g33" x="115" y="20"/><use href="#gb0" x="120" y="20"/><use href="#g43" x="125" y="20"/></g>
<g fill="#ff0000"><use href="#g38" x="140" y="20"/><use href="#g38" x="145" y="20"/><use href="#g25" x="150" y="20"/></g>
<g fill="#ff0000"><use href="#g31" x="165" y="20"/><use href="#g30" x="170" y="20"/><use href="#g30" x="175" y="20"/><use href="#g34" x="180" y="20"/><use href="#g2e" x="185" y="20"/><use href="#g32" x="190" y="20"/><use href="#g68" x="195" y="20"/><use href="#g50" x="200" y="20"/><use href="#g61" x="205" y="20"/></g>
<g fill="#00bfff"><use href="#g31" x="225" y="20"/><use href="#g2e" x="230" y="20"/><use href="#g36" x="235" y="20"/><use href="#g6d" x="240" y="20"/><use href="#g6d" x="245" y="20"/></g>
<g fill="#000"><use href="#g6d" x="80" y="30"/><use href="#g69" x="85" y="30"/><use href="#g6e" x="90" y="30"/></g>
<g fill="#0000cd"><use href="#g36" x="105" y="30"/><use href="#g2e" x="110" y="30"/><use href="#g30" x="115" y="30"/><use href="#gb0" x="120" y="30"/><use href="#g43" x="125" y="30"/></g>
<g fill="#0000cd"><use href="#g35" x="140" y="30"/><use href="#g38" x="145" y="30"/><use href="#g25" x="150" y="30"/></g>
<g fill="#0000cd"><use href="#g39" x="165" y="30"/><use href="#g39" x="170" y="30"/><use href="#g36" x="175" y="30"/><use href="#g2e" x="180" y="30"/><use href="#g32" x="185" y="30"/><use href="#g68" x="190" y="30"/><use href="#g50" x="195" y="30"/><use href="#g61" x="200" y="30"/></g>
<g fill="#000"><use href="#g61" x="80" y="40"/><use href="#g76" x="85" y="40"/><use href="#g67" x="90" y="40"/></g>
<g fill="#000"><use href="#g38" x="105" y="40"/><use href="#g2e" x="110" y="40"/><use href="#g34" x="115" y="40"/><use href="#gb0" x="120" y="40"/><use href="#g43" x="125" y="40"/></g>
<g fill="#000"><use href="#g57" x="499" y="20"/><use href="#g53" x="504" y="20"/><use href="#g3a" x="509" y="20"/><use href="#g34" x="514" y="20"/><use href="#g2e" x="519" y="20"/><use href="#g37" x="524" y="20"/><use href="#g6d" x="529" y="20"/><use href="#g2f" x="534" y="20"/><use href="#g73" x="539" y="20"/></g>
<g fill="#000"><use href="#g57" x="569" y="20"/><use href="#g47" x="574" y="20"/><use href="#g3a" x="579" y="20"/><use href="#g37" x="584" y="20"/><use href="#g2e" x="589" y="20"/><use href="#g31" x="594" y="20"/><use href="#g6d" x="599" y="20"/><use href="#g2f" x="604" y="20"/><use href="#g73" x="609" y="20"/></g>
<g fill="#000"><use href="#g56" x="499" y="30"/><use href="#gfd" x="504" y="30"/><use href="#g63" x="509" y="30"/><use href="#g68" x="514" y="30"/><use href="#g6f" x="519" y="30"/><use href="#g64" x="524" y="30"/><use href="#g3a" x="529" y="30"/><use href="#g30" x="534" y="30"/><use href="#g36" x="539" y="30"/><use href="#g3a" x="544" y="30"/><use href="#g35" x="549" y="30"/><use href="#g38" x="554" y="30"/></g>
<g fill="#000"><use href="#g5a" x="569" y="30"/><use href="#ge1" x="574" y="30"/><use href="#g70" x="579" y="30"/><use href="#g61" x="584" y="30"/><use href="#g64" x="589" y="30"/><use href="#g3a" x="594" y="30"/><use href="#g31" x="599" y="30"/><use href="#g36" x="604" y="30"/><use href="#g3a" x="609" y="30"/><use href="#g31" x="614" y="30"/><use href="#g37" x="619" y="30"/></g>
<g fill="#000"><use href="#b31" x="414" y="41"/><use href="#b32" x="421" y="41"/><use href="#b2e" x="428" y="41"/><use href="#b31" x="435" y="41"/><use href="#b31" x="442" y="41"/><use href="#b2e" x="449" y="41"/><use href="#b32" x="456" y="41"/><use href="#b30" x="463" y="41"/><use href="#b31" x="470" y="41"/><use href="#b30" x="477" y="41"/></g>
</g>
<g shape-rendering="crispEdges"><rect x="0" y="0" width="900" height="1" fill="#000"/><rect x="0" y="399" width="900" height="1" fill="#000"/><rect x="0" y="0" width="1" height="400" fill="#000"/><rect x="899" y="0" width="1" height="400" fill="#000"/></g>
</svg>
</body></html>
